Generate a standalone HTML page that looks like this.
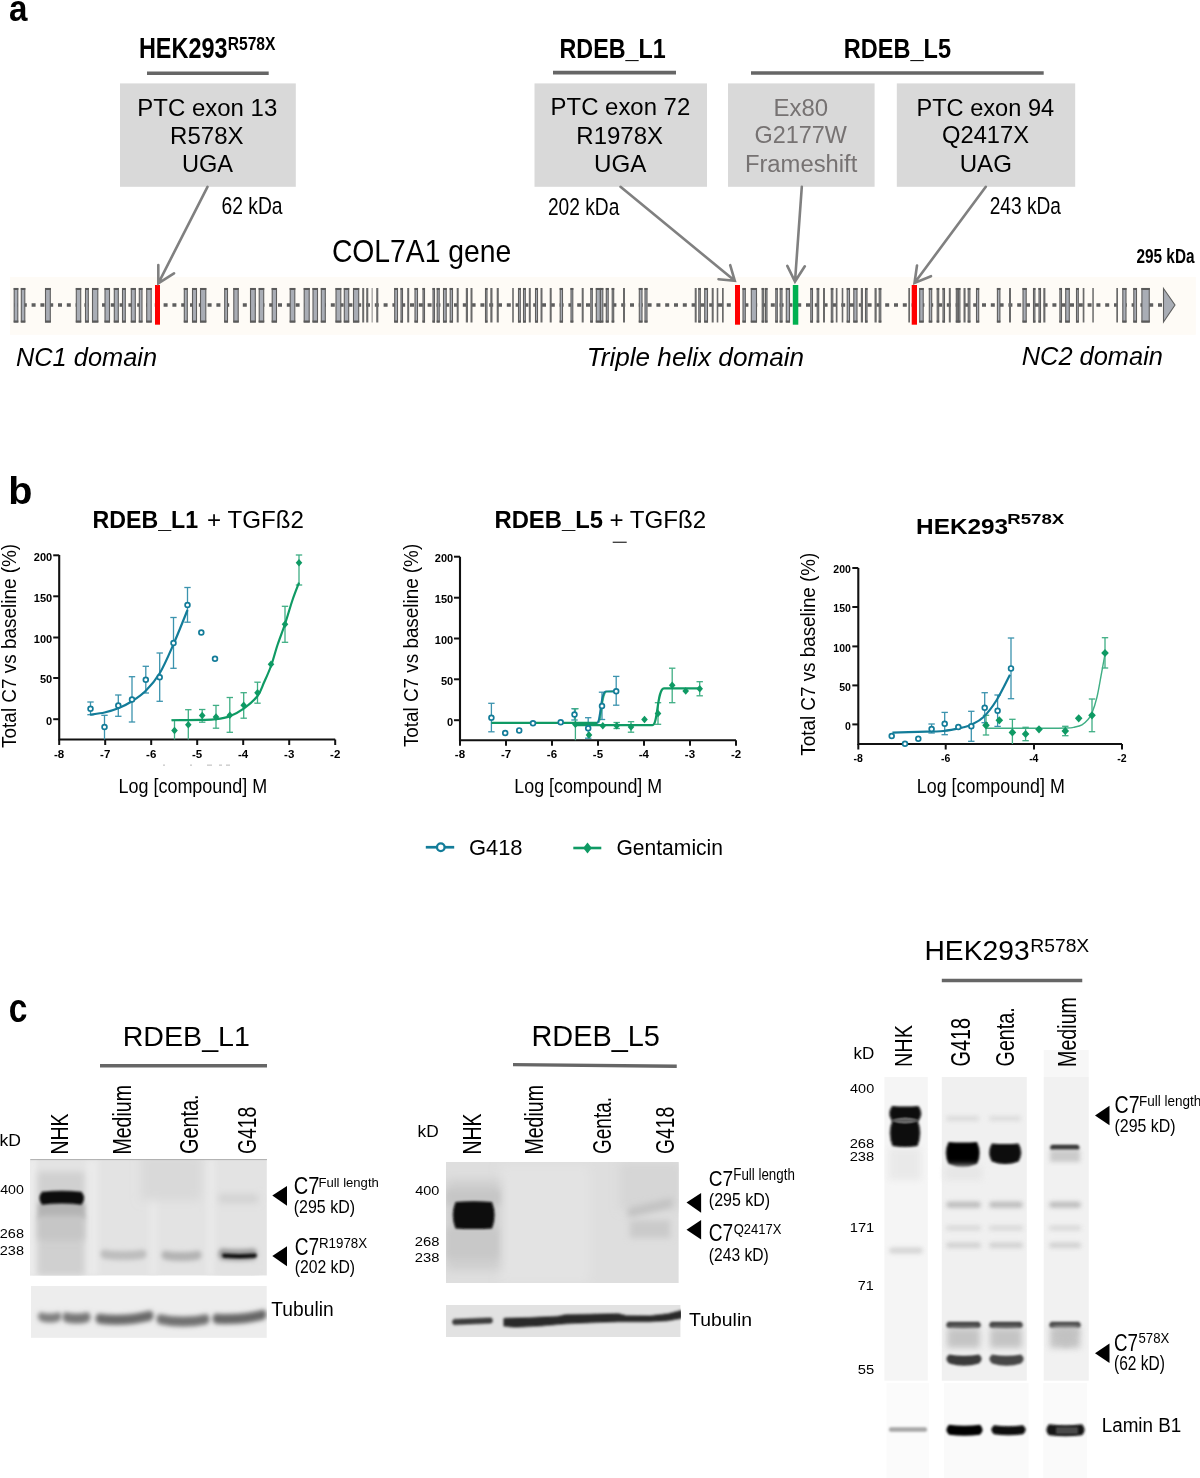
<!DOCTYPE html><html><head><meta charset="utf-8"><style>html,body{margin:0;padding:0;background:#fff;}svg{display:block;will-change:transform;}text{font-family:"Liberation Sans",sans-serif;}</style></head><body>
<svg width="1200" height="1478" viewBox="0 0 1200 1478">
<defs>
<filter id="b05" filterUnits="userSpaceOnUse" x="0" y="900" width="1200" height="578"><feGaussianBlur stdDeviation="0.6"/></filter>
<filter id="b1" filterUnits="userSpaceOnUse" x="0" y="900" width="1200" height="578"><feGaussianBlur stdDeviation="1.3"/></filter>
<filter id="b2" filterUnits="userSpaceOnUse" x="0" y="900" width="1200" height="578"><feGaussianBlur stdDeviation="2.2"/></filter>
<filter id="b3" filterUnits="userSpaceOnUse" x="0" y="900" width="1200" height="578"><feGaussianBlur stdDeviation="3.2"/></filter>
<filter id="b5" filterUnits="userSpaceOnUse" x="0" y="900" width="1200" height="578"><feGaussianBlur stdDeviation="5"/></filter>
</defs>
<rect x="0" y="0" width="1200" height="1478" fill="#fff"/>
<text x="9" y="21" font-size="37.4" textLength="18.45" lengthAdjust="spacingAndGlyphs" fill="#000" style="font-weight:bold;" >a</text>
<text x="138.88" y="58" font-size="29.07" textLength="88.64" lengthAdjust="spacingAndGlyphs" fill="#000" style="font-weight:bold;" >HEK293</text>
<text x="227.68" y="49.7" font-size="18.02" textLength="47.82" lengthAdjust="spacingAndGlyphs" fill="#000" style="font-weight:bold;" >R578X</text>
<text x="559.49" y="57.5" font-size="27.33" textLength="106.14" lengthAdjust="spacingAndGlyphs" fill="#000" style="font-weight:bold;" >RDEB_L1</text>
<text x="843.87" y="58" font-size="27.62" textLength="107.16" lengthAdjust="spacingAndGlyphs" fill="#000" style="font-weight:bold;" >RDEB_L5</text>
<line x1="147" y1="73.2" x2="268.7" y2="73.2" stroke="#666" stroke-width="3.6" />
<line x1="553" y1="72.6" x2="676" y2="72.6" stroke="#666" stroke-width="3.6" />
<line x1="751" y1="73" x2="1043.7" y2="73" stroke="#666" stroke-width="3.6" />
<rect x="120" y="83.4" width="175.8" height="103.4" fill="#d9d9d9" />
<rect x="534.5" y="83.4" width="172.5" height="103.4" fill="#d9d9d9" />
<rect x="728" y="83.4" width="146.6" height="103.4" fill="#d9d9d9" />
<rect x="896.8" y="83.4" width="178.4" height="103.4" fill="#d9d9d9" />
<text x="137.33" y="115.5" font-size="24.42" textLength="139.91" lengthAdjust="spacingAndGlyphs" fill="#000" style="" >PTC exon 13</text>
<text x="170.08" y="143.75" font-size="24.42" textLength="73.47" lengthAdjust="spacingAndGlyphs" fill="#000" style="" >R578X</text>
<text x="181.98" y="172" font-size="24.42" textLength="51.07" lengthAdjust="spacingAndGlyphs" fill="#000" style="" >UGA</text>
<text x="550.59" y="115.3" font-size="24.42" textLength="139.65" lengthAdjust="spacingAndGlyphs" fill="#000" style="" >PTC exon 72</text>
<text x="576.33" y="143.75" font-size="24.42" textLength="86.74" lengthAdjust="spacingAndGlyphs" fill="#000" style="" >R1978X</text>
<text x="593.94" y="171.75" font-size="24.42" textLength="52.36" lengthAdjust="spacingAndGlyphs" fill="#000" style="" >UGA</text>
<text x="773.48" y="115.7" font-size="24.42" textLength="54.64" lengthAdjust="spacingAndGlyphs" fill="#767272" style="" >Ex80</text>
<text x="754.43" y="143.4" font-size="24.42" textLength="92.5" lengthAdjust="spacingAndGlyphs" fill="#767272" style="" >G2177W</text>
<text x="744.9" y="171.7" font-size="24.42" textLength="112.4" lengthAdjust="spacingAndGlyphs" fill="#767272" style="" >Frameshift</text>
<text x="916.41" y="115.7" font-size="24.42" textLength="137.73" lengthAdjust="spacingAndGlyphs" fill="#000" style="" >PTC exon 94</text>
<text x="942.03" y="143.4" font-size="24.42" textLength="87.03" lengthAdjust="spacingAndGlyphs" fill="#000" style="" >Q2417X</text>
<text x="959.69" y="171.7" font-size="24.42" textLength="52.24" lengthAdjust="spacingAndGlyphs" fill="#000" style="" >UAG</text>
<text x="221.54" y="214.2" font-size="23.26" textLength="61.03" lengthAdjust="spacingAndGlyphs" fill="#000" style="" >62 kDa</text>
<text x="547.94" y="214.5" font-size="23.26" textLength="71.35" lengthAdjust="spacingAndGlyphs" fill="#000" style="" >202 kDa</text>
<text x="989.74" y="213.5" font-size="23.26" textLength="71.25" lengthAdjust="spacingAndGlyphs" fill="#000" style="" >243 kDa</text>
<text x="1136.46" y="262.7" font-size="19.48" textLength="58.1" lengthAdjust="spacingAndGlyphs" fill="#000" style="font-weight:bold;" >295 kDa</text>
<text x="331.88" y="261.7" font-size="31.98" textLength="179.48" lengthAdjust="spacingAndGlyphs" fill="#000" style="" >COL7A1 gene</text>
<rect x="10" y="277" width="1185.8" height="57.8" fill="#fefbf6" />
<line x1="14" y1="305" x2="1163" y2="305" stroke="#5e5e5e" stroke-width="3.6" stroke-dasharray="4 4.8"/>
<rect x="14.2" y="288.5" width="3.6" height="33.5" fill="#a9adb5" stroke="#5e5e5e" stroke-width="1.1"/>
<rect x="13.7" y="288" width="4.6" height="2" fill="#5a5a5a" />
<rect x="13.7" y="320.5" width="4.6" height="2" fill="#5a5a5a" />
<rect x="21.3" y="288.5" width="3.5" height="33.5" fill="#a9adb5" stroke="#5e5e5e" stroke-width="1.1"/>
<rect x="20.8" y="288" width="4.5" height="2" fill="#5a5a5a" />
<rect x="20.8" y="320.5" width="4.5" height="2" fill="#5a5a5a" />
<rect x="45.5" y="288.5" width="4.8" height="33.5" fill="#a9adb5" stroke="#5e5e5e" stroke-width="1.1"/>
<rect x="45" y="288" width="5.8" height="2" fill="#5a5a5a" />
<rect x="45" y="320.5" width="5.8" height="2" fill="#5a5a5a" />
<rect x="76.3" y="288.5" width="4.4" height="33.5" fill="#a9adb5" stroke="#5e5e5e" stroke-width="1.1"/>
<rect x="75.8" y="288" width="5.4" height="2" fill="#5a5a5a" />
<rect x="75.8" y="320.5" width="5.4" height="2" fill="#5a5a5a" />
<rect x="85.5" y="288.5" width="2.8" height="33.5" fill="#a9adb5" stroke="#5e5e5e" stroke-width="1.1"/>
<rect x="85" y="288" width="3.8" height="2" fill="#5a5a5a" />
<rect x="85" y="320.5" width="3.8" height="2" fill="#5a5a5a" />
<rect x="92.5" y="288.5" width="5.3" height="33.5" fill="#a9adb5" stroke="#5e5e5e" stroke-width="1.1"/>
<rect x="92" y="288" width="6.3" height="2" fill="#5a5a5a" />
<rect x="92" y="320.5" width="6.3" height="2" fill="#5a5a5a" />
<rect x="105" y="288.5" width="4.5" height="33.5" fill="#a9adb5" stroke="#5e5e5e" stroke-width="1.1"/>
<rect x="104.5" y="288" width="5.5" height="2" fill="#5a5a5a" />
<rect x="104.5" y="320.5" width="5.5" height="2" fill="#5a5a5a" />
<rect x="114.3" y="288.5" width="4" height="33.5" fill="#a9adb5" stroke="#5e5e5e" stroke-width="1.1"/>
<rect x="113.8" y="288" width="5" height="2" fill="#5a5a5a" />
<rect x="113.8" y="320.5" width="5" height="2" fill="#5a5a5a" />
<rect x="122.5" y="288.5" width="2.8" height="33.5" fill="#a9adb5" stroke="#5e5e5e" stroke-width="1.1"/>
<rect x="122" y="288" width="3.8" height="2" fill="#5a5a5a" />
<rect x="122" y="320.5" width="3.8" height="2" fill="#5a5a5a" />
<rect x="131.3" y="288.5" width="4" height="33.5" fill="#a9adb5" stroke="#5e5e5e" stroke-width="1.1"/>
<rect x="130.8" y="288" width="5" height="2" fill="#5a5a5a" />
<rect x="130.8" y="320.5" width="5" height="2" fill="#5a5a5a" />
<rect x="139.3" y="288.5" width="2.7" height="33.5" fill="#a9adb5" stroke="#5e5e5e" stroke-width="1.1"/>
<rect x="138.8" y="288" width="3.7" height="2" fill="#5a5a5a" />
<rect x="138.8" y="320.5" width="3.7" height="2" fill="#5a5a5a" />
<rect x="146.7" y="288.5" width="4.5" height="33.5" fill="#a9adb5" stroke="#5e5e5e" stroke-width="1.1"/>
<rect x="146.2" y="288" width="5.5" height="2" fill="#5a5a5a" />
<rect x="146.2" y="320.5" width="5.5" height="2" fill="#5a5a5a" />
<rect x="184.3" y="288.5" width="3" height="33.5" fill="#a9adb5" stroke="#5e5e5e" stroke-width="1.1"/>
<rect x="183.8" y="288" width="4" height="2" fill="#5a5a5a" />
<rect x="183.8" y="320.5" width="4" height="2" fill="#5a5a5a" />
<rect x="192.5" y="288.5" width="4" height="33.5" fill="#a9adb5" stroke="#5e5e5e" stroke-width="1.1"/>
<rect x="192" y="288" width="5" height="2" fill="#5a5a5a" />
<rect x="192" y="320.5" width="5" height="2" fill="#5a5a5a" />
<rect x="200.5" y="288.5" width="5.3" height="33.5" fill="#a9adb5" stroke="#5e5e5e" stroke-width="1.1"/>
<rect x="200" y="288" width="6.3" height="2" fill="#5a5a5a" />
<rect x="200" y="320.5" width="6.3" height="2" fill="#5a5a5a" />
<rect x="224.7" y="288.5" width="2.8" height="33.5" fill="#a9adb5" stroke="#5e5e5e" stroke-width="1.1"/>
<rect x="224.2" y="288" width="3.8" height="2" fill="#5a5a5a" />
<rect x="224.2" y="320.5" width="3.8" height="2" fill="#5a5a5a" />
<rect x="233.8" y="288.5" width="4.4" height="33.5" fill="#a9adb5" stroke="#5e5e5e" stroke-width="1.1"/>
<rect x="233.3" y="288" width="5.4" height="2" fill="#5a5a5a" />
<rect x="233.3" y="320.5" width="5.4" height="2" fill="#5a5a5a" />
<rect x="250.5" y="288.5" width="4.8" height="33.5" fill="#a9adb5" stroke="#5e5e5e" stroke-width="1.1"/>
<rect x="250" y="288" width="5.8" height="2" fill="#5a5a5a" />
<rect x="250" y="320.5" width="5.8" height="2" fill="#5a5a5a" />
<rect x="259.2" y="288.5" width="4.5" height="33.5" fill="#a9adb5" stroke="#5e5e5e" stroke-width="1.1"/>
<rect x="258.7" y="288" width="5.5" height="2" fill="#5a5a5a" />
<rect x="258.7" y="320.5" width="5.5" height="2" fill="#5a5a5a" />
<rect x="272.2" y="288.5" width="4.3" height="33.5" fill="#a9adb5" stroke="#5e5e5e" stroke-width="1.1"/>
<rect x="271.7" y="288" width="5.3" height="2" fill="#5a5a5a" />
<rect x="271.7" y="320.5" width="5.3" height="2" fill="#5a5a5a" />
<rect x="290.2" y="288.5" width="4.6" height="33.5" fill="#a9adb5" stroke="#5e5e5e" stroke-width="1.1"/>
<rect x="289.7" y="288" width="5.6" height="2" fill="#5a5a5a" />
<rect x="289.7" y="320.5" width="5.6" height="2" fill="#5a5a5a" />
<rect x="304.2" y="288.5" width="5" height="33.5" fill="#a9adb5" stroke="#5e5e5e" stroke-width="1.1"/>
<rect x="303.7" y="288" width="6" height="2" fill="#5a5a5a" />
<rect x="303.7" y="320.5" width="6" height="2" fill="#5a5a5a" />
<rect x="313" y="288.5" width="4.5" height="33.5" fill="#a9adb5" stroke="#5e5e5e" stroke-width="1.1"/>
<rect x="312.5" y="288" width="5.5" height="2" fill="#5a5a5a" />
<rect x="312.5" y="320.5" width="5.5" height="2" fill="#5a5a5a" />
<rect x="321.3" y="288.5" width="4" height="33.5" fill="#a9adb5" stroke="#5e5e5e" stroke-width="1.1"/>
<rect x="320.8" y="288" width="5" height="2" fill="#5a5a5a" />
<rect x="320.8" y="320.5" width="5" height="2" fill="#5a5a5a" />
<rect x="336" y="288.5" width="4.8" height="33.5" fill="#a9adb5" stroke="#5e5e5e" stroke-width="1.1"/>
<rect x="335.5" y="288" width="5.8" height="2" fill="#5a5a5a" />
<rect x="335.5" y="320.5" width="5.8" height="2" fill="#5a5a5a" />
<rect x="344.3" y="288.5" width="4.4" height="33.5" fill="#a9adb5" stroke="#5e5e5e" stroke-width="1.1"/>
<rect x="343.8" y="288" width="5.4" height="2" fill="#5a5a5a" />
<rect x="343.8" y="320.5" width="5.4" height="2" fill="#5a5a5a" />
<rect x="353.5" y="288.5" width="5.2" height="33.5" fill="#a9adb5" stroke="#5e5e5e" stroke-width="1.1"/>
<rect x="353" y="288" width="6.2" height="2" fill="#5a5a5a" />
<rect x="353" y="320.5" width="6.2" height="2" fill="#5a5a5a" />
<rect x="362.2" y="288" width="2" height="34.5" fill="#6a6a6a" />
<rect x="366.2" y="288" width="2.1" height="34.5" fill="#6a6a6a" />
<rect x="371.7" y="288" width="0.8" height="34.5" fill="#6a6a6a" />
<rect x="376.2" y="288" width="2.1" height="34.5" fill="#6a6a6a" />
<rect x="394.7" y="288.5" width="2.8" height="33.5" fill="#a9adb5" stroke="#5e5e5e" stroke-width="1.1"/>
<rect x="394.2" y="288" width="3.8" height="2" fill="#5a5a5a" />
<rect x="394.2" y="320.5" width="3.8" height="2" fill="#5a5a5a" />
<rect x="401" y="288.5" width="1.5" height="33.5" fill="#a9adb5" stroke="#5e5e5e" stroke-width="1.1"/>
<rect x="400.5" y="288" width="2.5" height="2" fill="#5a5a5a" />
<rect x="400.5" y="320.5" width="2.5" height="2" fill="#5a5a5a" />
<rect x="407.2" y="288" width="2" height="34.5" fill="#6a6a6a" />
<rect x="415" y="288.5" width="2.5" height="33.5" fill="#a9adb5" stroke="#5e5e5e" stroke-width="1.1"/>
<rect x="414.5" y="288" width="3.5" height="2" fill="#5a5a5a" />
<rect x="414.5" y="320.5" width="3.5" height="2" fill="#5a5a5a" />
<rect x="423" y="288.5" width="1.5" height="33.5" fill="#a9adb5" stroke="#5e5e5e" stroke-width="1.1"/>
<rect x="422.5" y="288" width="2.5" height="2" fill="#5a5a5a" />
<rect x="422.5" y="320.5" width="2.5" height="2" fill="#5a5a5a" />
<rect x="433" y="288.5" width="1.5" height="33.5" fill="#a9adb5" stroke="#5e5e5e" stroke-width="1.1"/>
<rect x="432.5" y="288" width="2.5" height="2" fill="#5a5a5a" />
<rect x="432.5" y="320.5" width="2.5" height="2" fill="#5a5a5a" />
<rect x="437.2" y="288.5" width="2" height="33.5" fill="#a9adb5" stroke="#5e5e5e" stroke-width="1.1"/>
<rect x="436.7" y="288" width="3" height="2" fill="#5a5a5a" />
<rect x="436.7" y="320.5" width="3" height="2" fill="#5a5a5a" />
<rect x="443.5" y="288.5" width="2.7" height="33.5" fill="#a9adb5" stroke="#5e5e5e" stroke-width="1.1"/>
<rect x="443" y="288" width="3.7" height="2" fill="#5a5a5a" />
<rect x="443" y="320.5" width="3.7" height="2" fill="#5a5a5a" />
<rect x="450.2" y="288.5" width="2.3" height="33.5" fill="#a9adb5" stroke="#5e5e5e" stroke-width="1.1"/>
<rect x="449.7" y="288" width="3.3" height="2" fill="#5a5a5a" />
<rect x="449.7" y="320.5" width="3.3" height="2" fill="#5a5a5a" />
<rect x="456.7" y="288" width="2" height="34.5" fill="#6a6a6a" />
<rect x="465.8" y="288" width="2.2" height="34.5" fill="#6a6a6a" />
<rect x="470.5" y="288" width="2" height="34.5" fill="#6a6a6a" />
<rect x="485.5" y="288.5" width="1.5" height="33.5" fill="#a9adb5" stroke="#5e5e5e" stroke-width="1.1"/>
<rect x="485" y="288" width="2.5" height="2" fill="#5a5a5a" />
<rect x="485" y="320.5" width="2.5" height="2" fill="#5a5a5a" />
<rect x="490.3" y="288" width="2.2" height="34.5" fill="#6a6a6a" />
<rect x="496.7" y="288" width="2.1" height="34.5" fill="#6a6a6a" />
<rect x="512.2" y="288" width="1.6" height="34.5" fill="#6a6a6a" />
<rect x="518.5" y="288.5" width="1.8" height="33.5" fill="#a9adb5" stroke="#5e5e5e" stroke-width="1.1"/>
<rect x="518" y="288" width="2.8" height="2" fill="#5a5a5a" />
<rect x="518" y="320.5" width="2.8" height="2" fill="#5a5a5a" />
<rect x="523.5" y="288.5" width="1.8" height="33.5" fill="#a9adb5" stroke="#5e5e5e" stroke-width="1.1"/>
<rect x="523" y="288" width="2.8" height="2" fill="#5a5a5a" />
<rect x="523" y="320.5" width="2.8" height="2" fill="#5a5a5a" />
<rect x="528.8" y="288" width="2" height="34.5" fill="#6a6a6a" />
<rect x="535.5" y="288.5" width="2" height="33.5" fill="#a9adb5" stroke="#5e5e5e" stroke-width="1.1"/>
<rect x="535" y="288" width="3" height="2" fill="#5a5a5a" />
<rect x="535" y="320.5" width="3" height="2" fill="#5a5a5a" />
<rect x="540.5" y="288" width="2" height="34.5" fill="#6a6a6a" />
<rect x="549.7" y="288" width="2" height="34.5" fill="#6a6a6a" />
<rect x="560.2" y="288.5" width="2.3" height="33.5" fill="#a9adb5" stroke="#5e5e5e" stroke-width="1.1"/>
<rect x="559.7" y="288" width="3.3" height="2" fill="#5a5a5a" />
<rect x="559.7" y="320.5" width="3.3" height="2" fill="#5a5a5a" />
<rect x="571" y="288.5" width="1.8" height="33.5" fill="#a9adb5" stroke="#5e5e5e" stroke-width="1.1"/>
<rect x="570.5" y="288" width="2.8" height="2" fill="#5a5a5a" />
<rect x="570.5" y="320.5" width="2.8" height="2" fill="#5a5a5a" />
<rect x="581.7" y="288" width="2" height="34.5" fill="#6a6a6a" />
<rect x="590.8" y="288.5" width="1.5" height="33.5" fill="#a9adb5" stroke="#5e5e5e" stroke-width="1.1"/>
<rect x="590.3" y="288" width="2.5" height="2" fill="#5a5a5a" />
<rect x="590.3" y="320.5" width="2.5" height="2" fill="#5a5a5a" />
<rect x="596.3" y="288.5" width="4" height="33.5" fill="#a9adb5" stroke="#5e5e5e" stroke-width="1.1"/>
<rect x="595.8" y="288" width="5" height="2" fill="#5a5a5a" />
<rect x="595.8" y="320.5" width="5" height="2" fill="#5a5a5a" />
<rect x="600.5" y="288.5" width="2.3" height="33.5" fill="#a9adb5" stroke="#5e5e5e" stroke-width="1.1"/>
<rect x="600" y="288" width="3.3" height="2" fill="#5a5a5a" />
<rect x="600" y="320.5" width="3.3" height="2" fill="#5a5a5a" />
<rect x="606.3" y="288.5" width="1.9" height="33.5" fill="#a9adb5" stroke="#5e5e5e" stroke-width="1.1"/>
<rect x="605.8" y="288" width="2.9" height="2" fill="#5a5a5a" />
<rect x="605.8" y="320.5" width="2.9" height="2" fill="#5a5a5a" />
<rect x="612.2" y="288.5" width="1.5" height="33.5" fill="#a9adb5" stroke="#5e5e5e" stroke-width="1.1"/>
<rect x="611.7" y="288" width="2.5" height="2" fill="#5a5a5a" />
<rect x="611.7" y="320.5" width="2.5" height="2" fill="#5a5a5a" />
<rect x="623" y="288" width="2" height="34.5" fill="#6a6a6a" />
<rect x="639.3" y="288.5" width="2.7" height="33.5" fill="#a9adb5" stroke="#5e5e5e" stroke-width="1.1"/>
<rect x="638.8" y="288" width="3.7" height="2" fill="#5a5a5a" />
<rect x="638.8" y="320.5" width="3.7" height="2" fill="#5a5a5a" />
<rect x="645" y="288.5" width="2" height="33.5" fill="#a9adb5" stroke="#5e5e5e" stroke-width="1.1"/>
<rect x="644.5" y="288" width="3" height="2" fill="#5a5a5a" />
<rect x="644.5" y="320.5" width="3" height="2" fill="#5a5a5a" />
<rect x="694.7" y="288" width="2" height="34.5" fill="#6a6a6a" />
<rect x="698.8" y="288.5" width="1.5" height="33.5" fill="#a9adb5" stroke="#5e5e5e" stroke-width="1.1"/>
<rect x="698.3" y="288" width="2.5" height="2" fill="#5a5a5a" />
<rect x="698.3" y="320.5" width="2.5" height="2" fill="#5a5a5a" />
<rect x="704.7" y="288.5" width="2.8" height="33.5" fill="#a9adb5" stroke="#5e5e5e" stroke-width="1.1"/>
<rect x="704.2" y="288" width="3.8" height="2" fill="#5a5a5a" />
<rect x="704.2" y="320.5" width="3.8" height="2" fill="#5a5a5a" />
<rect x="711.7" y="288" width="2" height="34.5" fill="#6a6a6a" />
<rect x="716.7" y="288" width="1.6" height="34.5" fill="#6a6a6a" />
<rect x="722" y="288" width="1.7" height="34.5" fill="#6a6a6a" />
<rect x="743" y="288.5" width="2.3" height="33.5" fill="#a9adb5" stroke="#5e5e5e" stroke-width="1.1"/>
<rect x="742.5" y="288" width="3.3" height="2" fill="#5a5a5a" />
<rect x="742.5" y="320.5" width="3.3" height="2" fill="#5a5a5a" />
<rect x="751.3" y="288.5" width="5.2" height="33.5" fill="#a9adb5" stroke="#5e5e5e" stroke-width="1.1"/>
<rect x="750.8" y="288" width="6.2" height="2" fill="#5a5a5a" />
<rect x="750.8" y="320.5" width="6.2" height="2" fill="#5a5a5a" />
<rect x="762.2" y="288.5" width="1.5" height="33.5" fill="#a9adb5" stroke="#5e5e5e" stroke-width="1.1"/>
<rect x="761.7" y="288" width="2.5" height="2" fill="#5a5a5a" />
<rect x="761.7" y="320.5" width="2.5" height="2" fill="#5a5a5a" />
<rect x="765.5" y="288.5" width="1.5" height="33.5" fill="#a9adb5" stroke="#5e5e5e" stroke-width="1.1"/>
<rect x="765" y="288" width="2.5" height="2" fill="#5a5a5a" />
<rect x="765" y="320.5" width="2.5" height="2" fill="#5a5a5a" />
<rect x="775.8" y="288.5" width="1.5" height="33.5" fill="#a9adb5" stroke="#5e5e5e" stroke-width="1.1"/>
<rect x="775.3" y="288" width="2.5" height="2" fill="#5a5a5a" />
<rect x="775.3" y="320.5" width="2.5" height="2" fill="#5a5a5a" />
<rect x="780.2" y="288.5" width="1.8" height="33.5" fill="#a9adb5" stroke="#5e5e5e" stroke-width="1.1"/>
<rect x="779.7" y="288" width="2.8" height="2" fill="#5a5a5a" />
<rect x="779.7" y="320.5" width="2.8" height="2" fill="#5a5a5a" />
<rect x="786.3" y="288.5" width="3.2" height="33.5" fill="#a9adb5" stroke="#5e5e5e" stroke-width="1.1"/>
<rect x="785.8" y="288" width="4.2" height="2" fill="#5a5a5a" />
<rect x="785.8" y="320.5" width="4.2" height="2" fill="#5a5a5a" />
<rect x="810.8" y="288.5" width="1.7" height="33.5" fill="#a9adb5" stroke="#5e5e5e" stroke-width="1.1"/>
<rect x="810.3" y="288" width="2.7" height="2" fill="#5a5a5a" />
<rect x="810.3" y="320.5" width="2.7" height="2" fill="#5a5a5a" />
<rect x="817.2" y="288.5" width="1.5" height="33.5" fill="#a9adb5" stroke="#5e5e5e" stroke-width="1.1"/>
<rect x="816.7" y="288" width="2.5" height="2" fill="#5a5a5a" />
<rect x="816.7" y="320.5" width="2.5" height="2" fill="#5a5a5a" />
<rect x="823" y="288" width="2" height="34.5" fill="#6a6a6a" />
<rect x="831.3" y="288.5" width="1.5" height="33.5" fill="#a9adb5" stroke="#5e5e5e" stroke-width="1.1"/>
<rect x="830.8" y="288" width="2.5" height="2" fill="#5a5a5a" />
<rect x="830.8" y="320.5" width="2.5" height="2" fill="#5a5a5a" />
<rect x="835.8" y="288" width="1.7" height="34.5" fill="#6a6a6a" />
<rect x="841.7" y="288" width="1.6" height="34.5" fill="#6a6a6a" />
<rect x="847.2" y="288.5" width="2.3" height="33.5" fill="#a9adb5" stroke="#5e5e5e" stroke-width="1.1"/>
<rect x="846.7" y="288" width="3.3" height="2" fill="#5a5a5a" />
<rect x="846.7" y="320.5" width="3.3" height="2" fill="#5a5a5a" />
<rect x="853.8" y="288.5" width="3.2" height="33.5" fill="#a9adb5" stroke="#5e5e5e" stroke-width="1.1"/>
<rect x="853.3" y="288" width="4.2" height="2" fill="#5a5a5a" />
<rect x="853.3" y="320.5" width="4.2" height="2" fill="#5a5a5a" />
<rect x="860.8" y="288" width="2.2" height="34.5" fill="#6a6a6a" />
<rect x="865.5" y="288.5" width="1.5" height="33.5" fill="#a9adb5" stroke="#5e5e5e" stroke-width="1.1"/>
<rect x="865" y="288" width="2.5" height="2" fill="#5a5a5a" />
<rect x="865" y="320.5" width="2.5" height="2" fill="#5a5a5a" />
<rect x="874.5" y="288" width="2.2" height="34.5" fill="#6a6a6a" />
<rect x="879.2" y="288.5" width="1.6" height="33.5" fill="#a9adb5" stroke="#5e5e5e" stroke-width="1.1"/>
<rect x="878.7" y="288" width="2.6" height="2" fill="#5a5a5a" />
<rect x="878.7" y="320.5" width="2.6" height="2" fill="#5a5a5a" />
<rect x="908.3" y="288" width="1.7" height="34.5" fill="#6a6a6a" />
<rect x="919.7" y="288.5" width="3.5" height="33.5" fill="#a9adb5" stroke="#5e5e5e" stroke-width="1.1"/>
<rect x="919.2" y="288" width="4.5" height="2" fill="#5a5a5a" />
<rect x="919.2" y="320.5" width="4.5" height="2" fill="#5a5a5a" />
<rect x="929.3" y="288.5" width="2.4" height="33.5" fill="#a9adb5" stroke="#5e5e5e" stroke-width="1.1"/>
<rect x="928.8" y="288" width="3.4" height="2" fill="#5a5a5a" />
<rect x="928.8" y="320.5" width="3.4" height="2" fill="#5a5a5a" />
<rect x="937.2" y="288.5" width="1.5" height="33.5" fill="#a9adb5" stroke="#5e5e5e" stroke-width="1.1"/>
<rect x="936.7" y="288" width="2.5" height="2" fill="#5a5a5a" />
<rect x="936.7" y="320.5" width="2.5" height="2" fill="#5a5a5a" />
<rect x="943" y="288.5" width="1.5" height="33.5" fill="#a9adb5" stroke="#5e5e5e" stroke-width="1.1"/>
<rect x="942.5" y="288" width="2.5" height="2" fill="#5a5a5a" />
<rect x="942.5" y="320.5" width="2.5" height="2" fill="#5a5a5a" />
<rect x="948.8" y="288" width="2" height="34.5" fill="#6a6a6a" />
<rect x="956.3" y="288.5" width="1.5" height="33.5" fill="#a9adb5" stroke="#5e5e5e" stroke-width="1.1"/>
<rect x="955.8" y="288" width="2.5" height="2" fill="#5a5a5a" />
<rect x="955.8" y="320.5" width="2.5" height="2" fill="#5a5a5a" />
<rect x="958.4" y="288.5" width="1.5" height="33.5" fill="#a9adb5" stroke="#5e5e5e" stroke-width="1.1"/>
<rect x="957.9" y="288" width="2.5" height="2" fill="#5a5a5a" />
<rect x="957.9" y="320.5" width="2.5" height="2" fill="#5a5a5a" />
<rect x="963.5" y="288" width="2.1" height="34.5" fill="#6a6a6a" />
<rect x="968.2" y="288.5" width="1.7" height="33.5" fill="#a9adb5" stroke="#5e5e5e" stroke-width="1.1"/>
<rect x="967.7" y="288" width="2.7" height="2" fill="#5a5a5a" />
<rect x="967.7" y="320.5" width="2.7" height="2" fill="#5a5a5a" />
<rect x="976.5" y="288.5" width="2.2" height="33.5" fill="#a9adb5" stroke="#5e5e5e" stroke-width="1.1"/>
<rect x="976" y="288" width="3.2" height="2" fill="#5a5a5a" />
<rect x="976" y="320.5" width="3.2" height="2" fill="#5a5a5a" />
<rect x="997.4" y="288.5" width="2.5" height="33.5" fill="#a9adb5" stroke="#5e5e5e" stroke-width="1.1"/>
<rect x="996.9" y="288" width="3.5" height="2" fill="#5a5a5a" />
<rect x="996.9" y="320.5" width="3.5" height="2" fill="#5a5a5a" />
<rect x="1009" y="288" width="2" height="34.5" fill="#6a6a6a" />
<rect x="1023" y="288.5" width="3.2" height="33.5" fill="#a9adb5" stroke="#5e5e5e" stroke-width="1.1"/>
<rect x="1022.5" y="288" width="4.2" height="2" fill="#5a5a5a" />
<rect x="1022.5" y="320.5" width="4.2" height="2" fill="#5a5a5a" />
<rect x="1033.5" y="288.5" width="1.4" height="33.5" fill="#a9adb5" stroke="#5e5e5e" stroke-width="1.1"/>
<rect x="1033" y="288" width="2.4" height="2" fill="#5a5a5a" />
<rect x="1033" y="320.5" width="2.4" height="2" fill="#5a5a5a" />
<rect x="1039" y="288.5" width="1.5" height="33.5" fill="#a9adb5" stroke="#5e5e5e" stroke-width="1.1"/>
<rect x="1038.5" y="288" width="2.5" height="2" fill="#5a5a5a" />
<rect x="1038.5" y="320.5" width="2.5" height="2" fill="#5a5a5a" />
<rect x="1043.3" y="288" width="2.1" height="34.5" fill="#6a6a6a" />
<rect x="1059.9" y="288.5" width="1.6" height="33.5" fill="#a9adb5" stroke="#5e5e5e" stroke-width="1.1"/>
<rect x="1059.4" y="288" width="2.6" height="2" fill="#5a5a5a" />
<rect x="1059.4" y="320.5" width="2.6" height="2" fill="#5a5a5a" />
<rect x="1065.7" y="288.5" width="3.6" height="33.5" fill="#a9adb5" stroke="#5e5e5e" stroke-width="1.1"/>
<rect x="1065.2" y="288" width="4.6" height="2" fill="#5a5a5a" />
<rect x="1065.2" y="320.5" width="4.6" height="2" fill="#5a5a5a" />
<rect x="1076.5" y="288.5" width="1.8" height="33.5" fill="#a9adb5" stroke="#5e5e5e" stroke-width="1.1"/>
<rect x="1076" y="288" width="2.8" height="2" fill="#5a5a5a" />
<rect x="1076" y="320.5" width="2.8" height="2" fill="#5a5a5a" />
<rect x="1082.7" y="288" width="1.7" height="34.5" fill="#6a6a6a" />
<rect x="1092.3" y="288" width="1.5" height="34.5" fill="#6a6a6a" />
<rect x="1116.3" y="288" width="1.7" height="34.5" fill="#6a6a6a" />
<rect x="1122.8" y="288.5" width="3.2" height="33.5" fill="#a9adb5" stroke="#5e5e5e" stroke-width="1.1"/>
<rect x="1122.3" y="288" width="4.2" height="2" fill="#5a5a5a" />
<rect x="1122.3" y="320.5" width="4.2" height="2" fill="#5a5a5a" />
<rect x="1133.8" y="288.5" width="2.7" height="33.5" fill="#a9adb5" stroke="#5e5e5e" stroke-width="1.1"/>
<rect x="1133.3" y="288" width="3.7" height="2" fill="#5a5a5a" />
<rect x="1133.3" y="320.5" width="3.7" height="2" fill="#5a5a5a" />
<rect x="1141.9" y="288.5" width="7.35" height="33.5" fill="#a9adb5" stroke="#5e5e5e" stroke-width="1.1"/>
<rect x="1141.4" y="288" width="8.35" height="2" fill="#5a5a5a" />
<rect x="1141.4" y="320.5" width="8.35" height="2" fill="#5a5a5a" />
<path d="M1163.5,288.5 L1175,305 L1163.5,322 Z" fill="#a9adb5" stroke="#5e5e5e" stroke-width="1.1"/>
<rect x="155" y="285" width="5" height="39.7" fill="#ff0000" />
<rect x="735" y="285" width="5" height="39.7" fill="#ff0000" />
<rect x="911.7" y="285" width="5.3" height="39.7" fill="#ff0000" />
<rect x="792.8" y="285" width="5.5" height="39.7" fill="#00b050" />
<path d="M207.5,186.8 L158.3,283.3 M158.3,265 L158.3,283.3 L174,273.3" fill="none" stroke="#808080" stroke-width="2.6" stroke-linecap="round" stroke-linejoin="miter"/>
<path d="M620.5,186.8 L734.8,280.8 M718.5,279.2 L734.8,280.8 L730.2,265.2" fill="none" stroke="#808080" stroke-width="2.6" stroke-linecap="round" stroke-linejoin="miter"/>
<path d="M801.8,186.8 L795,281.5 M787.3,265.9 L795,281.5 L804.8,266.3" fill="none" stroke="#808080" stroke-width="2.6" stroke-linecap="round" stroke-linejoin="miter"/>
<path d="M985.8,186.8 L914.5,283 M917,265.5 L914.5,283 L931,276.2" fill="none" stroke="#808080" stroke-width="2.6" stroke-linecap="round" stroke-linejoin="miter"/>
<text x="15.94" y="365.8" font-size="25.44" textLength="141.09" lengthAdjust="spacingAndGlyphs" fill="#000" style="font-style:italic;" >NC1 domain</text>
<text x="586.65" y="366" font-size="25.44" textLength="217.49" lengthAdjust="spacingAndGlyphs" fill="#000" style="font-style:italic;" >Triple helix domain</text>
<text x="1021.74" y="365" font-size="25.44" textLength="141.19" lengthAdjust="spacingAndGlyphs" fill="#000" style="font-style:italic;" >NC2 domain</text>
<text x="8.23" y="504.2" font-size="39.7" textLength="24.19" lengthAdjust="spacingAndGlyphs" fill="#000" style="font-weight:bold;" >b</text>
<text x="92.49" y="528.2" font-size="23.55" textLength="105.63" lengthAdjust="spacingAndGlyphs" fill="#000" style="font-weight:bold;" >RDEB_L1</text>
<text x="207.09" y="528.2" font-size="23.55" textLength="96.82" lengthAdjust="spacingAndGlyphs" fill="#000" style="" >+ TGFß2</text>
<path d="M59.2,555 L59.2,739.5 L335.2,739.5" fill="none" stroke="#111" stroke-width="2.1" stroke-linejoin="miter"/>
<line x1="53.2" y1="555.3" x2="59.2" y2="555.3" stroke="#111" stroke-width="2" />
<text x="33.83" y="560.6" font-size="11" fill="#000" style="font-weight:bold;">200</text>
<line x1="53.2" y1="596.3" x2="59.2" y2="596.3" stroke="#111" stroke-width="2" />
<text x="33.83" y="601.6" font-size="11" fill="#000" style="font-weight:bold;">150</text>
<line x1="53.2" y1="637.5" x2="59.2" y2="637.5" stroke="#111" stroke-width="2" />
<text x="33.83" y="642.8" font-size="11" fill="#000" style="font-weight:bold;">100</text>
<line x1="53.2" y1="678" x2="59.2" y2="678" stroke="#111" stroke-width="2" />
<text x="39.93" y="683.3" font-size="11" fill="#000" style="font-weight:bold;">50</text>
<line x1="53.2" y1="719.2" x2="59.2" y2="719.2" stroke="#111" stroke-width="2" />
<text x="46.04" y="724.5" font-size="11" fill="#000" style="font-weight:bold;">0</text>
<line x1="59.2" y1="739.5" x2="59.2" y2="745" stroke="#111" stroke-width="2" />
<text x="54.03" y="757.5" font-size="11.5" fill="#000" style="font-weight:bold;">-8</text>
<line x1="105.2" y1="739.5" x2="105.2" y2="745" stroke="#111" stroke-width="2" />
<text x="100.08" y="757.5" font-size="11.5" fill="#000" style="font-weight:bold;">-7</text>
<line x1="151.2" y1="739.5" x2="151.2" y2="745" stroke="#111" stroke-width="2" />
<text x="146.05" y="757.5" font-size="11.5" fill="#000" style="font-weight:bold;">-6</text>
<line x1="197.2" y1="739.5" x2="197.2" y2="745" stroke="#111" stroke-width="2" />
<text x="192" y="757.5" font-size="11.5" fill="#000" style="font-weight:bold;">-5</text>
<line x1="243.2" y1="739.5" x2="243.2" y2="745" stroke="#111" stroke-width="2" />
<text x="237.88" y="757.5" font-size="11.5" fill="#000" style="font-weight:bold;">-4</text>
<line x1="289.2" y1="739.5" x2="289.2" y2="745" stroke="#111" stroke-width="2" />
<text x="284.05" y="757.5" font-size="11.5" fill="#000" style="font-weight:bold;">-3</text>
<line x1="335.2" y1="739.5" x2="335.2" y2="745" stroke="#111" stroke-width="2" />
<text x="330.08" y="757.5" font-size="11.5" fill="#000" style="font-weight:bold;">-2</text>
<text transform="translate(15.8,747.88) rotate(-90)" x="0" y="0" font-size="20.49" textLength="204.06" lengthAdjust="spacingAndGlyphs" fill="#000" style="">Total C7 vs baseline (%)</text>
<text x="118.56" y="793.3" font-size="19.33" textLength="148.62" lengthAdjust="spacingAndGlyphs" fill="#000" style="" >Log [compound] M</text>
<rect x="163" y="764.5" width="2" height="1.3" fill="#c8c8c8" />
<rect x="190" y="764.5" width="2" height="1.3" fill="#c8c8c8" />
<rect x="207" y="764.5" width="5" height="1.3" fill="#c8c8c8" />
<rect x="219" y="764.5" width="3" height="1.3" fill="#c8c8c8" />
<rect x="226" y="764.5" width="4" height="1.3" fill="#c8c8c8" />
<line x1="90.5" y1="702" x2="90.5" y2="714.7" stroke="#3b93ae" stroke-width="1.3" />
<line x1="87.3" y1="702" x2="93.7" y2="702" stroke="#3b93ae" stroke-width="1.3" />
<line x1="87.3" y1="714.7" x2="93.7" y2="714.7" stroke="#3b93ae" stroke-width="1.3" />
<line x1="104.5" y1="715.3" x2="104.5" y2="739.5" stroke="#3b93ae" stroke-width="1.3" />
<line x1="101.3" y1="715.3" x2="107.7" y2="715.3" stroke="#3b93ae" stroke-width="1.3" />
<line x1="118.3" y1="695" x2="118.3" y2="716.3" stroke="#3b93ae" stroke-width="1.3" />
<line x1="115.1" y1="695" x2="121.5" y2="695" stroke="#3b93ae" stroke-width="1.3" />
<line x1="115.1" y1="716.3" x2="121.5" y2="716.3" stroke="#3b93ae" stroke-width="1.3" />
<line x1="132" y1="676.7" x2="132" y2="722" stroke="#3b93ae" stroke-width="1.3" />
<line x1="128.8" y1="676.7" x2="135.2" y2="676.7" stroke="#3b93ae" stroke-width="1.3" />
<line x1="128.8" y1="722" x2="135.2" y2="722" stroke="#3b93ae" stroke-width="1.3" />
<line x1="145.8" y1="666.3" x2="145.8" y2="693" stroke="#3b93ae" stroke-width="1.3" />
<line x1="142.6" y1="666.3" x2="149" y2="666.3" stroke="#3b93ae" stroke-width="1.3" />
<line x1="142.6" y1="693" x2="149" y2="693" stroke="#3b93ae" stroke-width="1.3" />
<line x1="159.7" y1="653" x2="159.7" y2="701.3" stroke="#3b93ae" stroke-width="1.3" />
<line x1="156.5" y1="653" x2="162.9" y2="653" stroke="#3b93ae" stroke-width="1.3" />
<line x1="156.5" y1="701.3" x2="162.9" y2="701.3" stroke="#3b93ae" stroke-width="1.3" />
<line x1="173.5" y1="617.5" x2="173.5" y2="668.3" stroke="#3b93ae" stroke-width="1.3" />
<line x1="170.3" y1="617.5" x2="176.7" y2="617.5" stroke="#3b93ae" stroke-width="1.3" />
<line x1="170.3" y1="668.3" x2="176.7" y2="668.3" stroke="#3b93ae" stroke-width="1.3" />
<line x1="187.5" y1="587.5" x2="187.5" y2="622.2" stroke="#3b93ae" stroke-width="1.3" />
<line x1="184.3" y1="587.5" x2="190.7" y2="587.5" stroke="#3b93ae" stroke-width="1.3" />
<line x1="184.3" y1="622.2" x2="190.7" y2="622.2" stroke="#3b93ae" stroke-width="1.3" />
<path d="M90,714.7 C92.42,714.33 99.78,713.57 104.5,712.5 C109.22,711.43 113.72,710.17 118.3,708.3 C122.88,706.43 127.42,704.22 132,701.3 C136.58,698.38 141.18,695.47 145.8,690.8 C150.42,686.13 155.08,681.07 159.7,673.3 C164.32,665.53 168.87,654.75 173.5,644.2 C178.13,633.65 185.17,615.7 187.5,610" fill="none" stroke="#137c99" stroke-width="2.2" stroke-linecap="butt"/>
<circle cx="90.5" cy="708.7" r="2.4" fill="#fff" stroke="#137c99" stroke-width="1.7"/>
<circle cx="104.5" cy="727" r="2.4" fill="#fff" stroke="#137c99" stroke-width="1.7"/>
<circle cx="118.3" cy="705.5" r="2.4" fill="#fff" stroke="#137c99" stroke-width="1.7"/>
<circle cx="132" cy="699.5" r="2.4" fill="#fff" stroke="#137c99" stroke-width="1.7"/>
<circle cx="145.8" cy="679.7" r="2.4" fill="#fff" stroke="#137c99" stroke-width="1.7"/>
<circle cx="159.7" cy="677.2" r="2.4" fill="#fff" stroke="#137c99" stroke-width="1.7"/>
<circle cx="173.5" cy="643" r="2.4" fill="#fff" stroke="#137c99" stroke-width="1.7"/>
<circle cx="187.5" cy="605" r="2.4" fill="#fff" stroke="#137c99" stroke-width="1.7"/>
<circle cx="201.3" cy="632.5" r="2.4" fill="#fff" stroke="#137c99" stroke-width="1.7"/>
<circle cx="215" cy="658.8" r="2.4" fill="#fff" stroke="#137c99" stroke-width="1.7"/>
<line x1="174.5" y1="720" x2="174.5" y2="739.5" stroke="#3fae84" stroke-width="1.3" />
<line x1="171.3" y1="720" x2="177.7" y2="720" stroke="#3fae84" stroke-width="1.3" />
<line x1="188.3" y1="709.7" x2="188.3" y2="739.5" stroke="#3fae84" stroke-width="1.3" />
<line x1="185.1" y1="709.7" x2="191.5" y2="709.7" stroke="#3fae84" stroke-width="1.3" />
<line x1="202.2" y1="709.5" x2="202.2" y2="722.2" stroke="#3fae84" stroke-width="1.3" />
<line x1="199" y1="709.5" x2="205.4" y2="709.5" stroke="#3fae84" stroke-width="1.3" />
<line x1="199" y1="722.2" x2="205.4" y2="722.2" stroke="#3fae84" stroke-width="1.3" />
<line x1="216" y1="705.4" x2="216" y2="728.2" stroke="#3fae84" stroke-width="1.3" />
<line x1="212.8" y1="705.4" x2="219.2" y2="705.4" stroke="#3fae84" stroke-width="1.3" />
<line x1="212.8" y1="728.2" x2="219.2" y2="728.2" stroke="#3fae84" stroke-width="1.3" />
<line x1="229.8" y1="697.5" x2="229.8" y2="732.3" stroke="#3fae84" stroke-width="1.3" />
<line x1="226.6" y1="697.5" x2="233" y2="697.5" stroke="#3fae84" stroke-width="1.3" />
<line x1="226.6" y1="732.3" x2="233" y2="732.3" stroke="#3fae84" stroke-width="1.3" />
<line x1="243.7" y1="692.7" x2="243.7" y2="718.2" stroke="#3fae84" stroke-width="1.3" />
<line x1="240.5" y1="692.7" x2="246.9" y2="692.7" stroke="#3fae84" stroke-width="1.3" />
<line x1="240.5" y1="718.2" x2="246.9" y2="718.2" stroke="#3fae84" stroke-width="1.3" />
<line x1="257.5" y1="682.2" x2="257.5" y2="703.2" stroke="#3fae84" stroke-width="1.3" />
<line x1="254.3" y1="682.2" x2="260.7" y2="682.2" stroke="#3fae84" stroke-width="1.3" />
<line x1="254.3" y1="703.2" x2="260.7" y2="703.2" stroke="#3fae84" stroke-width="1.3" />
<line x1="285" y1="606.3" x2="285" y2="642.3" stroke="#3fae84" stroke-width="1.3" />
<line x1="281.8" y1="606.3" x2="288.2" y2="606.3" stroke="#3fae84" stroke-width="1.3" />
<line x1="281.8" y1="642.3" x2="288.2" y2="642.3" stroke="#3fae84" stroke-width="1.3" />
<line x1="299" y1="555" x2="299" y2="585" stroke="#3fae84" stroke-width="1.3" />
<line x1="295.8" y1="555" x2="302.2" y2="555" stroke="#3fae84" stroke-width="1.3" />
<line x1="295.8" y1="585" x2="302.2" y2="585" stroke="#3fae84" stroke-width="1.3" />
<path d="M171.7,720.3 C173.08,720.27 174.95,720.17 180,720.1 C185.05,720.03 196,720.05 202,719.9 C208,719.75 211.37,719.82 216,719.2 C220.63,718.58 225.18,717.95 229.8,716.2 C234.42,714.45 239.08,712.07 243.7,708.7 C248.32,705.33 254.12,700.37 257.5,696 C260.88,691.63 261.75,687.5 264,682.5 C266.25,677.5 268.75,672.25 271,666 C273.25,659.75 275.17,652 277.5,645 C279.83,638 282.5,631.5 285,624 C287.5,616.5 290.17,606.88 292.5,600 C294.83,593.12 297.92,585.58 299,582.7" fill="none" stroke="#0f9a64" stroke-width="2.2" stroke-linecap="butt"/>
<path d="M174.5,726.8 L177.8,730.5 L174.5,734.2 L171.2,730.5 Z" fill="#0f9a64"/>
<path d="M188.3,721 L191.6,724.7 L188.3,728.4 L185,724.7 Z" fill="#0f9a64"/>
<path d="M202.2,711.8 L205.5,715.5 L202.2,719.2 L198.9,715.5 Z" fill="#0f9a64"/>
<path d="M216,713.3 L219.3,717 L216,720.7 L212.7,717 Z" fill="#0f9a64"/>
<path d="M229.8,711.5 L233.1,715.2 L229.8,718.9 L226.5,715.2 Z" fill="#0f9a64"/>
<path d="M243.7,701.6 L247,705.3 L243.7,709 L240.4,705.3 Z" fill="#0f9a64"/>
<path d="M257.5,689 L260.8,692.7 L257.5,696.4 L254.2,692.7 Z" fill="#0f9a64"/>
<path d="M271,660.5 L274.3,664.2 L271,667.9 L267.7,664.2 Z" fill="#0f9a64"/>
<path d="M285,620.6 L288.3,624.3 L285,628 L281.7,624.3 Z" fill="#0f9a64"/>
<path d="M299,559.1 L302.3,562.8 L299,566.5 L295.7,562.8 Z" fill="#0f9a64"/>
<text x="494.45" y="527.7" font-size="23.55" textLength="108.49" lengthAdjust="spacingAndGlyphs" fill="#000" style="font-weight:bold;" >RDEB_L5</text>
<text x="609.49" y="527.7" font-size="23.55" textLength="96.72" lengthAdjust="spacingAndGlyphs" fill="#000" style="" >+ TGFß2</text>
<line x1="612.7" y1="542.3" x2="626.7" y2="542.3" stroke="#444" stroke-width="1.4" />
<path d="M460,556.7 L460,740.2 L736,740.2" fill="none" stroke="#111" stroke-width="2.1" stroke-linejoin="miter"/>
<line x1="454" y1="556.7" x2="460" y2="556.7" stroke="#111" stroke-width="2" />
<text x="434.82" y="562" font-size="11" fill="#000" style="font-weight:bold;">200</text>
<line x1="454" y1="597.7" x2="460" y2="597.7" stroke="#111" stroke-width="2" />
<text x="434.82" y="603" font-size="11" fill="#000" style="font-weight:bold;">150</text>
<line x1="454" y1="638.5" x2="460" y2="638.5" stroke="#111" stroke-width="2" />
<text x="434.82" y="643.8" font-size="11" fill="#000" style="font-weight:bold;">100</text>
<line x1="454" y1="679.3" x2="460" y2="679.3" stroke="#111" stroke-width="2" />
<text x="440.93" y="684.6" font-size="11" fill="#000" style="font-weight:bold;">50</text>
<line x1="454" y1="720.2" x2="460" y2="720.2" stroke="#111" stroke-width="2" />
<text x="447.03" y="725.5" font-size="11" fill="#000" style="font-weight:bold;">0</text>
<line x1="460" y1="740.2" x2="460" y2="745.7" stroke="#111" stroke-width="2" />
<text x="454.82" y="758.3" font-size="11.5" fill="#000" style="font-weight:bold;">-8</text>
<line x1="506" y1="740.2" x2="506" y2="745.7" stroke="#111" stroke-width="2" />
<text x="500.88" y="758.3" font-size="11.5" fill="#000" style="font-weight:bold;">-7</text>
<line x1="552" y1="740.2" x2="552" y2="745.7" stroke="#111" stroke-width="2" />
<text x="546.85" y="758.3" font-size="11.5" fill="#000" style="font-weight:bold;">-6</text>
<line x1="598" y1="740.2" x2="598" y2="745.7" stroke="#111" stroke-width="2" />
<text x="592.8" y="758.3" font-size="11.5" fill="#000" style="font-weight:bold;">-5</text>
<line x1="644" y1="740.2" x2="644" y2="745.7" stroke="#111" stroke-width="2" />
<text x="638.68" y="758.3" font-size="11.5" fill="#000" style="font-weight:bold;">-4</text>
<line x1="690" y1="740.2" x2="690" y2="745.7" stroke="#111" stroke-width="2" />
<text x="684.85" y="758.3" font-size="11.5" fill="#000" style="font-weight:bold;">-3</text>
<line x1="736" y1="740.2" x2="736" y2="745.7" stroke="#111" stroke-width="2" />
<text x="730.88" y="758.3" font-size="11.5" fill="#000" style="font-weight:bold;">-2</text>
<text transform="translate(417.5,747.08) rotate(-90)" x="0" y="0" font-size="20.64" textLength="203.25" lengthAdjust="spacingAndGlyphs" fill="#000" style="">Total C7 vs baseline (%)</text>
<text x="514.27" y="793.3" font-size="19.33" textLength="147.91" lengthAdjust="spacingAndGlyphs" fill="#000" style="" >Log [compound] M</text>
<line x1="491.4" y1="703.3" x2="491.4" y2="731.8" stroke="#3b93ae" stroke-width="1.3" />
<line x1="488.2" y1="703.3" x2="494.6" y2="703.3" stroke="#3b93ae" stroke-width="1.3" />
<line x1="488.2" y1="731.8" x2="494.6" y2="731.8" stroke="#3b93ae" stroke-width="1.3" />
<line x1="574.5" y1="708.7" x2="574.5" y2="720" stroke="#3b93ae" stroke-width="1.3" />
<line x1="571.3" y1="708.7" x2="577.7" y2="708.7" stroke="#3b93ae" stroke-width="1.3" />
<line x1="571.3" y1="720" x2="577.7" y2="720" stroke="#3b93ae" stroke-width="1.3" />
<line x1="588.2" y1="717.7" x2="588.2" y2="738.2" stroke="#3b93ae" stroke-width="1.3" />
<line x1="585" y1="717.7" x2="591.4" y2="717.7" stroke="#3b93ae" stroke-width="1.3" />
<line x1="585" y1="738.2" x2="591.4" y2="738.2" stroke="#3b93ae" stroke-width="1.3" />
<line x1="602" y1="692.2" x2="602" y2="719.5" stroke="#3b93ae" stroke-width="1.3" />
<line x1="598.8" y1="692.2" x2="605.2" y2="692.2" stroke="#3b93ae" stroke-width="1.3" />
<line x1="598.8" y1="719.5" x2="605.2" y2="719.5" stroke="#3b93ae" stroke-width="1.3" />
<line x1="616.2" y1="676.4" x2="616.2" y2="705.2" stroke="#3b93ae" stroke-width="1.3" />
<line x1="613" y1="676.4" x2="619.4" y2="676.4" stroke="#3b93ae" stroke-width="1.3" />
<line x1="613" y1="705.2" x2="619.4" y2="705.2" stroke="#3b93ae" stroke-width="1.3" />
<line x1="575.4" y1="708.7" x2="575.4" y2="740.2" stroke="#3fae84" stroke-width="1.3" />
<line x1="572.2" y1="708.7" x2="578.6" y2="708.7" stroke="#3fae84" stroke-width="1.3" />
<line x1="616.7" y1="722.5" x2="616.7" y2="728.5" stroke="#3fae84" stroke-width="1.3" />
<line x1="613.5" y1="722.5" x2="619.9" y2="722.5" stroke="#3fae84" stroke-width="1.3" />
<line x1="613.5" y1="728.5" x2="619.9" y2="728.5" stroke="#3fae84" stroke-width="1.3" />
<line x1="631" y1="721.7" x2="631" y2="732.2" stroke="#3fae84" stroke-width="1.3" />
<line x1="627.8" y1="721.7" x2="634.2" y2="721.7" stroke="#3fae84" stroke-width="1.3" />
<line x1="627.8" y1="732.2" x2="634.2" y2="732.2" stroke="#3fae84" stroke-width="1.3" />
<line x1="658" y1="702.7" x2="658" y2="724.3" stroke="#3fae84" stroke-width="1.3" />
<line x1="654.8" y1="702.7" x2="661.2" y2="702.7" stroke="#3fae84" stroke-width="1.3" />
<line x1="654.8" y1="724.3" x2="661.2" y2="724.3" stroke="#3fae84" stroke-width="1.3" />
<line x1="672.2" y1="668.2" x2="672.2" y2="702.7" stroke="#3fae84" stroke-width="1.3" />
<line x1="669" y1="668.2" x2="675.4" y2="668.2" stroke="#3fae84" stroke-width="1.3" />
<line x1="669" y1="702.7" x2="675.4" y2="702.7" stroke="#3fae84" stroke-width="1.3" />
<line x1="699.7" y1="681.7" x2="699.7" y2="695.8" stroke="#3fae84" stroke-width="1.3" />
<line x1="696.5" y1="681.7" x2="702.9" y2="681.7" stroke="#3fae84" stroke-width="1.3" />
<line x1="696.5" y1="695.8" x2="702.9" y2="695.8" stroke="#3fae84" stroke-width="1.3" />
<path d="M597,722.8 C601,722.8 600.5,692 606,691.5 L616.2,691.3" fill="none" stroke="#137c99" stroke-width="2.2"/>
<path d="M491.4,722.8 L597,722.8" fill="none" stroke="#0f9a64" stroke-width="2.2"/>
<path d="M598.5,723 C602,722.8 601.5,692 607,691.5 L616.2,691.3" fill="none" stroke="#0f9a64" stroke-width="1.2" opacity="0.7"/>
<path d="M575.4,725.2 L652.5,725.2 C658,725.2 657,688.5 664,688.3 L699.7,688.3" fill="none" stroke="#0f9a64" stroke-width="2.2"/>
<circle cx="491.4" cy="717.7" r="2.4" fill="#fff" stroke="#137c99" stroke-width="1.7"/>
<circle cx="505.2" cy="733" r="2.4" fill="#fff" stroke="#137c99" stroke-width="1.7"/>
<circle cx="519.2" cy="730.4" r="2.4" fill="#fff" stroke="#137c99" stroke-width="1.7"/>
<circle cx="533" cy="723.2" r="2.4" fill="#fff" stroke="#137c99" stroke-width="1.7"/>
<circle cx="560.7" cy="722.2" r="2.4" fill="#fff" stroke="#137c99" stroke-width="1.7"/>
<circle cx="574.5" cy="714.5" r="2.4" fill="#fff" stroke="#137c99" stroke-width="1.7"/>
<circle cx="588.2" cy="728.2" r="2.4" fill="#fff" stroke="#137c99" stroke-width="1.7"/>
<circle cx="602" cy="706" r="2.4" fill="#fff" stroke="#137c99" stroke-width="1.7"/>
<circle cx="616.2" cy="691.3" r="2.4" fill="#fff" stroke="#137c99" stroke-width="1.7"/>
<path d="M575.4,720.7 L578.7,724.4 L575.4,728.1 L572.1,724.4 Z" fill="#0f9a64"/>
<path d="M589,731.3 L592.3,735 L589,738.7 L585.7,735 Z" fill="#0f9a64"/>
<path d="M602.8,722.1 L606.1,725.8 L602.8,729.5 L599.5,725.8 Z" fill="#0f9a64"/>
<path d="M616.7,722.1 L620,725.8 L616.7,729.5 L613.4,725.8 Z" fill="#0f9a64"/>
<path d="M631,723.3 L634.3,727 L631,730.7 L627.7,727 Z" fill="#0f9a64"/>
<path d="M644.5,715.8 L647.8,719.5 L644.5,723.2 L641.2,719.5 Z" fill="#0f9a64"/>
<path d="M658,709.8 L661.3,713.5 L658,717.2 L654.7,713.5 Z" fill="#0f9a64"/>
<path d="M672.2,681.6 L675.5,685.3 L672.2,689 L668.9,685.3 Z" fill="#0f9a64"/>
<path d="M685.7,687.3 L689,691 L685.7,694.7 L682.4,691 Z" fill="#0f9a64"/>
<path d="M699.7,685 L703,688.7 L699.7,692.4 L696.4,688.7 Z" fill="#0f9a64"/>
<text x="916.12" y="534" font-size="22.82" textLength="92.03" lengthAdjust="spacingAndGlyphs" fill="#000" style="font-weight:bold;" >HEK293</text>
<text x="1007.29" y="524" font-size="15.41" textLength="56.95" lengthAdjust="spacingAndGlyphs" fill="#000" style="font-weight:bold;" >R578X</text>
<path d="M858.3,568 L858.3,744 L1122,744" fill="none" stroke="#111" stroke-width="2.1" stroke-linejoin="miter"/>
<line x1="852.3" y1="568" x2="858.3" y2="568" stroke="#111" stroke-width="2" />
<text x="833.34" y="573.3" font-size="10.5" fill="#000" style="font-weight:bold;">200</text>
<line x1="852.3" y1="607" x2="858.3" y2="607" stroke="#111" stroke-width="2" />
<text x="833.34" y="612.3" font-size="10.5" fill="#000" style="font-weight:bold;">150</text>
<line x1="852.3" y1="646.4" x2="858.3" y2="646.4" stroke="#111" stroke-width="2" />
<text x="833.34" y="651.7" font-size="10.5" fill="#000" style="font-weight:bold;">100</text>
<line x1="852.3" y1="685.4" x2="858.3" y2="685.4" stroke="#111" stroke-width="2" />
<text x="839.16" y="690.7" font-size="10.5" fill="#000" style="font-weight:bold;">50</text>
<line x1="852.3" y1="724.4" x2="858.3" y2="724.4" stroke="#111" stroke-width="2" />
<text x="844.99" y="729.7" font-size="10.5" fill="#000" style="font-weight:bold;">0</text>
<line x1="858.3" y1="744" x2="858.3" y2="749.5" stroke="#111" stroke-width="2" />
<text x="853.57" y="761.8" font-size="10.5" fill="#000" style="font-weight:bold;">-8</text>
<line x1="945.7" y1="744" x2="945.7" y2="749.5" stroke="#111" stroke-width="2" />
<text x="941" y="761.8" font-size="10.5" fill="#000" style="font-weight:bold;">-6</text>
<line x1="1034" y1="744" x2="1034" y2="749.5" stroke="#111" stroke-width="2" />
<text x="1029.14" y="761.8" font-size="10.5" fill="#000" style="font-weight:bold;">-4</text>
<line x1="1122" y1="744" x2="1122" y2="749.5" stroke="#111" stroke-width="2" />
<text x="1117.33" y="761.8" font-size="10.5" fill="#000" style="font-weight:bold;">-2</text>
<text transform="translate(814.6,755.68) rotate(-90)" x="0" y="0" font-size="20.35" textLength="203.05" lengthAdjust="spacingAndGlyphs" fill="#000" style="">Total C7 vs baseline (%)</text>
<text x="916.87" y="793.3" font-size="19.33" textLength="147.91" lengthAdjust="spacingAndGlyphs" fill="#000" style="" >Log [compound] M</text>
<line x1="931.6" y1="724" x2="931.6" y2="733" stroke="#3b93ae" stroke-width="1.3" />
<line x1="928.4" y1="724" x2="934.8" y2="724" stroke="#3b93ae" stroke-width="1.3" />
<line x1="928.4" y1="733" x2="934.8" y2="733" stroke="#3b93ae" stroke-width="1.3" />
<line x1="944.7" y1="712.4" x2="944.7" y2="734.7" stroke="#3b93ae" stroke-width="1.3" />
<line x1="941.5" y1="712.4" x2="947.9" y2="712.4" stroke="#3b93ae" stroke-width="1.3" />
<line x1="941.5" y1="734.7" x2="947.9" y2="734.7" stroke="#3b93ae" stroke-width="1.3" />
<line x1="971.3" y1="711.3" x2="971.3" y2="741.3" stroke="#3b93ae" stroke-width="1.3" />
<line x1="968.1" y1="711.3" x2="974.5" y2="711.3" stroke="#3b93ae" stroke-width="1.3" />
<line x1="968.1" y1="741.3" x2="974.5" y2="741.3" stroke="#3b93ae" stroke-width="1.3" />
<line x1="984.7" y1="692.7" x2="984.7" y2="722.7" stroke="#3b93ae" stroke-width="1.3" />
<line x1="981.5" y1="692.7" x2="987.9" y2="692.7" stroke="#3b93ae" stroke-width="1.3" />
<line x1="981.5" y1="722.7" x2="987.9" y2="722.7" stroke="#3b93ae" stroke-width="1.3" />
<line x1="997.6" y1="695" x2="997.6" y2="726.4" stroke="#3b93ae" stroke-width="1.3" />
<line x1="994.4" y1="695" x2="1000.8" y2="695" stroke="#3b93ae" stroke-width="1.3" />
<line x1="994.4" y1="726.4" x2="1000.8" y2="726.4" stroke="#3b93ae" stroke-width="1.3" />
<line x1="1011" y1="638" x2="1011" y2="698.7" stroke="#3b93ae" stroke-width="1.3" />
<line x1="1007.8" y1="638" x2="1014.2" y2="638" stroke="#3b93ae" stroke-width="1.3" />
<line x1="1007.8" y1="698.7" x2="1014.2" y2="698.7" stroke="#3b93ae" stroke-width="1.3" />
<line x1="986" y1="715.3" x2="986" y2="735" stroke="#3fae84" stroke-width="1.3" />
<line x1="982.8" y1="715.3" x2="989.2" y2="715.3" stroke="#3fae84" stroke-width="1.3" />
<line x1="982.8" y1="735" x2="989.2" y2="735" stroke="#3fae84" stroke-width="1.3" />
<line x1="1012.4" y1="719.3" x2="1012.4" y2="744" stroke="#3fae84" stroke-width="1.3" />
<line x1="1009.2" y1="719.3" x2="1015.6" y2="719.3" stroke="#3fae84" stroke-width="1.3" />
<line x1="1025.6" y1="727.3" x2="1025.6" y2="740.7" stroke="#3fae84" stroke-width="1.3" />
<line x1="1022.4" y1="727.3" x2="1028.8" y2="727.3" stroke="#3fae84" stroke-width="1.3" />
<line x1="1022.4" y1="740.7" x2="1028.8" y2="740.7" stroke="#3fae84" stroke-width="1.3" />
<line x1="1065.3" y1="726.3" x2="1065.3" y2="735.7" stroke="#3fae84" stroke-width="1.3" />
<line x1="1062.1" y1="726.3" x2="1068.5" y2="726.3" stroke="#3fae84" stroke-width="1.3" />
<line x1="1062.1" y1="735.7" x2="1068.5" y2="735.7" stroke="#3fae84" stroke-width="1.3" />
<line x1="1092" y1="699" x2="1092" y2="731.7" stroke="#3fae84" stroke-width="1.3" />
<line x1="1088.8" y1="699" x2="1095.2" y2="699" stroke="#3fae84" stroke-width="1.3" />
<line x1="1088.8" y1="731.7" x2="1095.2" y2="731.7" stroke="#3fae84" stroke-width="1.3" />
<line x1="1105" y1="637.7" x2="1105" y2="668" stroke="#3fae84" stroke-width="1.3" />
<line x1="1101.8" y1="637.7" x2="1108.2" y2="637.7" stroke="#3fae84" stroke-width="1.3" />
<line x1="1101.8" y1="668" x2="1108.2" y2="668" stroke="#3fae84" stroke-width="1.3" />
<path d="M892.4,732.7 C896.67,732.57 909.52,732.18 918,731.9 C926.48,731.62 935.75,731.77 943.3,731 C950.85,730.23 958.63,728.35 963.3,727.3 C967.97,726.25 967.97,726.37 971.3,724.7 C974.63,723.03 979.07,721.42 983.3,717.3 C987.53,713.18 992.25,707.1 996.7,700 C1001.15,692.9 1007.78,678.92 1010,674.7" fill="none" stroke="#137c99" stroke-width="2.2" stroke-linecap="butt"/>
<path d="M986,728.3 C993.33,728.3 1016.67,728.35 1030,728.3 C1043.33,728.25 1058.5,728.22 1066,728 C1073.5,727.78 1072.33,727.53 1075,727 C1077.67,726.47 1079.83,726.05 1082,724.8 C1084.17,723.55 1086.33,721.47 1088,719.5 C1089.67,717.53 1090.5,716.75 1092,713 C1093.5,709.25 1095.5,703.17 1097,697 C1098.5,690.83 1099.67,683.17 1101,676 C1102.33,668.83 1104.33,657.67 1105,654" fill="none" stroke="#3fae84" stroke-width="1.4" stroke-linecap="butt"/>
<circle cx="891.7" cy="736" r="2.4" fill="#fff" stroke="#137c99" stroke-width="1.7"/>
<circle cx="905" cy="743.7" r="2.4" fill="#fff" stroke="#137c99" stroke-width="1.7"/>
<circle cx="918.3" cy="738.7" r="2.4" fill="#fff" stroke="#137c99" stroke-width="1.7"/>
<circle cx="931.6" cy="729" r="2.4" fill="#fff" stroke="#137c99" stroke-width="1.7"/>
<circle cx="944.7" cy="723.7" r="2.4" fill="#fff" stroke="#137c99" stroke-width="1.7"/>
<circle cx="958.3" cy="727" r="2.4" fill="#fff" stroke="#137c99" stroke-width="1.7"/>
<circle cx="971.3" cy="726.3" r="2.4" fill="#fff" stroke="#137c99" stroke-width="1.7"/>
<circle cx="984.7" cy="707.7" r="2.4" fill="#fff" stroke="#137c99" stroke-width="1.7"/>
<circle cx="997.6" cy="710.7" r="2.4" fill="#fff" stroke="#137c99" stroke-width="1.7"/>
<circle cx="1011" cy="668.4" r="2.4" fill="#fff" stroke="#137c99" stroke-width="1.7"/>
<path d="M986,721.2 L989.8,725.3 L986,729.4 L982.2,725.3 Z" fill="#0f9a64"/>
<path d="M999.3,716.2 L1003.1,720.3 L999.3,724.4 L995.5,720.3 Z" fill="#0f9a64"/>
<path d="M1012.4,728.3 L1016.2,732.4 L1012.4,736.5 L1008.6,732.4 Z" fill="#0f9a64"/>
<path d="M1025.6,729.9 L1029.4,734 L1025.6,738.1 L1021.8,734 Z" fill="#0f9a64"/>
<path d="M1039,725.2 L1042.8,729.3 L1039,733.4 L1035.2,729.3 Z" fill="#0f9a64"/>
<path d="M1065.3,726.9 L1069.1,731 L1065.3,735.1 L1061.5,731 Z" fill="#0f9a64"/>
<path d="M1078.7,714.2 L1082.5,718.3 L1078.7,722.4 L1074.9,718.3 Z" fill="#0f9a64"/>
<path d="M1092,711.2 L1095.8,715.3 L1092,719.4 L1088.2,715.3 Z" fill="#0f9a64"/>
<path d="M1105,648.9 L1108.8,653 L1105,657.1 L1101.2,653 Z" fill="#0f9a64"/>
<line x1="425.8" y1="847.25" x2="454.2" y2="847.25" stroke="#137c99" stroke-width="2.7" />
<circle cx="440.8" cy="847.25" r="3.8" fill="#fff" stroke="#137c99" stroke-width="2.3"/>
<text x="468.9" y="855" font-size="22.97" textLength="53.7" lengthAdjust="spacingAndGlyphs" fill="#000" style="" >G418</text>
<line x1="573.3" y1="848" x2="601.3" y2="848" stroke="#0f9a64" stroke-width="2.6" />
<path d="M587.5,842.4 L591.8,848 L587.5,853.6 L583.2,848 Z" fill="#0f9a64"/>
<text x="616.45" y="855.4" font-size="22.97" textLength="106.58" lengthAdjust="spacingAndGlyphs" fill="#000" style="" >Gentamicin</text>
<text x="8.66" y="1021.6" font-size="40.5" textLength="18.63" lengthAdjust="spacingAndGlyphs" fill="#000" style="font-weight:bold;" >c</text>
<text x="122.71" y="1046" font-size="28.05" textLength="127.13" lengthAdjust="spacingAndGlyphs" fill="#000" style="" >RDEB_L1</text>
<line x1="100" y1="1065.8" x2="267" y2="1065.8" stroke="#666" stroke-width="3.6" />
<text x="-0.64" y="1146.2" font-size="16.86" textLength="21.47" lengthAdjust="spacingAndGlyphs" fill="#000" style="" >kD</text>
<text transform="translate(68,1154.55) rotate(-90)" x="0" y="0" font-size="24.35" textLength="41.03" lengthAdjust="spacingAndGlyphs" fill="#000" style="">NHK</text>
<text transform="translate(130.5,1154.56) rotate(-90)" x="0" y="0" font-size="26.16" textLength="69.52" lengthAdjust="spacingAndGlyphs" fill="#000" style="">Medium</text>
<text transform="translate(197.5,1153.99) rotate(-90)" x="0" y="0" font-size="26.16" textLength="59.57" lengthAdjust="spacingAndGlyphs" fill="#000" style="">Genta.</text>
<text transform="translate(256.25,1153.97) rotate(-90)" x="0" y="0" font-size="26.53" textLength="47.26" lengthAdjust="spacingAndGlyphs" fill="#000" style="">G418</text>
<svg x="30.3" y="1159.3" width="236.7" height="116.2" overflow="hidden"><g transform="translate(-30.3,-1159.3)">
<rect x="30.3" y="1159.3" width="236.7" height="116.2" fill="#e3e3e3" />
<rect x="28" y="1159" width="9" height="117" rx="0" fill="#ececec" filter="url(#b2)" />
<rect x="86" y="1159" width="12" height="117" rx="0" fill="#ebebeb" filter="url(#b3)" />
<rect x="149" y="1159" width="8" height="117" rx="0" fill="#e9e9e9" filter="url(#b3)" />
<rect x="207" y="1159" width="8" height="117" rx="0" fill="#eaeaea" filter="url(#b3)" />
<rect x="141" y="1155" width="60" height="45" rx="0" fill="#d9d9d9" filter="url(#b5)" />
<rect x="216" y="1258" width="42" height="18" rx="0" fill="#e2e2e2" filter="url(#b3)" />
<rect x="38" y="1172" width="46" height="103" rx="0" fill="#d0d0d0" filter="url(#b3)" />
<rect x="38" y="1203" width="47" height="16" rx="0" fill="#b4b4b4" filter="url(#b2)" />
<rect x="38" y="1216" width="46" height="24" rx="0" fill="#c6c6c6" filter="url(#b3)" />
<path d="M42,1191.9 Q61.75,1189.5 81.5,1191.9 Q86.7,1198.3 81.5,1204.7 Q61.75,1202.3 42,1204.7 Q36.8,1198.3 42,1191.9 Z" fill="#0c0c0c" filter="url(#b1)" />
<path d="M103,1249.5 Q123.5,1252.5 144,1249.5 Q149.2,1254 144,1258.5 Q123.5,1261.5 103,1258.5 Q97.8,1254 103,1249.5 Z" fill="#bebebe" filter="url(#b2)" />
<path d="M164,1250.5 Q181.5,1253.5 199,1250.5 Q204.2,1255 199,1259.5 Q181.5,1262.5 164,1259.5 Q158.8,1255 164,1250.5 Z" fill="#b4b4b4" filter="url(#b2)" />
<rect x="219" y="1194" width="39" height="9" rx="0" fill="#d3d3d3" filter="url(#b3)" />
<path d="M221,1248.5 Q237.75,1250.5 254.5,1248.5 Q259.7,1254 254.5,1259.5 Q237.75,1261.5 221,1259.5 Q215.8,1254 221,1248.5 Z" fill="#949494" filter="url(#b2)" />
<path d="M223.5,1253.6 Q239.5,1254.8 255.5,1253.6 Q258.1,1255.6 255.5,1257.6 Q239.5,1258.8 223.5,1257.6 Q220.9,1255.6 223.5,1253.6 Z" fill="#0e0e0e" filter="url(#b1)" />
</g></svg>
<line x1="30.3" y1="1159.6" x2="267" y2="1159.6" stroke="#a8a8a8" stroke-width="0.9" />
<text x="0.22" y="1193.9" font-size="13.7" textLength="23.63" lengthAdjust="spacingAndGlyphs" fill="#000" style="" >400</text>
<text x="-0.22" y="1238.4" font-size="13.7" textLength="24.15" lengthAdjust="spacingAndGlyphs" fill="#000" style="" >268</text>
<text x="-0.22" y="1254.8" font-size="13.7" textLength="24.15" lengthAdjust="spacingAndGlyphs" fill="#000" style="" >238</text>
<svg x="31.3" y="1285.8" width="235.6" height="52.1" overflow="hidden"><g transform="translate(-31.3,-1285.8)">
<rect x="31.3" y="1285.8" width="235.6" height="52.1" fill="#ededed" />
<path d="M40.5,1312 Q49.75,1315 59,1312 Q64.2,1316.5 59,1321 Q49.75,1324 40.5,1321 Q35.3,1316.5 40.5,1312 Z" fill="#808080" filter="url(#b2)" />
<path d="M65,1312 Q76.5,1315 88,1312 Q93.2,1317 88,1322 Q76.5,1325 65,1322 Q59.8,1317 65,1312 Z" fill="#787878" filter="url(#b2)" />
<path d="M98,1313.5 Q124.5,1317 151,1310.5 Q156.2,1315.5 151,1320.5 Q124.5,1327 98,1323.5 Q92.8,1318.5 98,1313.5 Z" fill="#6a6a6a" filter="url(#b2)" />
<path d="M159,1314 Q183,1319 207,1314 Q212.2,1319 207,1324 Q183,1329 159,1324 Q153.8,1319 159,1314 Z" fill="#727272" filter="url(#b2)" />
<path d="M215,1313.5 Q239.5,1315.5 264,1309.5 Q269.2,1314.5 264,1319.5 Q239.5,1325.5 215,1323.5 Q209.8,1318.5 215,1313.5 Z" fill="#686868" filter="url(#b2)" />
</g></svg>
<path d="M272.3,1195.6 L287,1185.9 L287,1205.7 Z" fill="#000"/>
<path d="M272.3,1255.9 L287,1246.3 L287,1266.2 Z" fill="#000"/>
<text x="293.7" y="1193.8" font-size="24.71" textLength="25.68" lengthAdjust="spacingAndGlyphs" fill="#000" style="" >C7</text>
<text x="318.45" y="1186.6" font-size="13.37" textLength="60.38" lengthAdjust="spacingAndGlyphs" fill="#000" style="" >Full length</text>
<text x="293.74" y="1212.5" font-size="18.6" textLength="61.29" lengthAdjust="spacingAndGlyphs" fill="#000" style="" >(295 kD)</text>
<text x="294.65" y="1254.5" font-size="23.98" textLength="24.37" lengthAdjust="spacingAndGlyphs" fill="#000" style="" >C7</text>
<text x="318.93" y="1247.5" font-size="14.39" textLength="48.19" lengthAdjust="spacingAndGlyphs" fill="#000" style="" >R1978X</text>
<text x="294.66" y="1273.2" font-size="18.31" textLength="60.36" lengthAdjust="spacingAndGlyphs" fill="#000" style="" >(202 kD)</text>
<text x="271.32" y="1316.3" font-size="19.48" textLength="62.29" lengthAdjust="spacingAndGlyphs" fill="#000" style="" >Tubulin</text>
<text x="531.44" y="1046.25" font-size="29.07" textLength="128.52" lengthAdjust="spacingAndGlyphs" fill="#000" style="" >RDEB_L5</text>
<line x1="513" y1="1064.6" x2="676.75" y2="1066.2" stroke="#666" stroke-width="3.4" />
<text x="417.62" y="1137" font-size="15.63" textLength="21.2" lengthAdjust="spacingAndGlyphs" fill="#000" style="" >kD</text>
<text transform="translate(481.25,1154.55) rotate(-90)" x="0" y="0" font-size="25.44" textLength="41.03" lengthAdjust="spacingAndGlyphs" fill="#000" style="">NHK</text>
<text transform="translate(543,1154.56) rotate(-90)" x="0" y="0" font-size="26.16" textLength="69.52" lengthAdjust="spacingAndGlyphs" fill="#000" style="">Medium</text>
<text transform="translate(611.25,1153.95) rotate(-90)" x="0" y="0" font-size="26.53" textLength="56.94" lengthAdjust="spacingAndGlyphs" fill="#000" style="">Genta.</text>
<text transform="translate(674.25,1153.97) rotate(-90)" x="0" y="0" font-size="26.16" textLength="47.26" lengthAdjust="spacingAndGlyphs" fill="#000" style="">G418</text>
<svg x="446.25" y="1162" width="232.5" height="121" overflow="hidden"><g transform="translate(-446.25,-1162)">
<rect x="446.25" y="1162" width="232.5" height="121" fill="#dedede" />
<rect x="500" y="1165" width="90" height="118" rx="0" fill="#e3e3e3" filter="url(#b5)" />
<rect x="620" y="1162" width="60" height="48" rx="0" fill="#d6d6d6" filter="url(#b5)" />
<rect x="446" y="1180" width="54" height="90" rx="0" fill="#cecece" filter="url(#b5)" />
<rect x="446" y="1228" width="52" height="30" rx="0" fill="#c8c8c8" filter="url(#b3)" />
<rect x="446" y="1190" width="54" height="15" rx="0" fill="#c6c6c6" filter="url(#b3)" />
<path d="M455.5,1201.95 Q473.75,1200.75 492,1201.95 Q497.2,1215.2 492,1228.45 Q473.75,1229.65 455.5,1228.45 Q450.3,1215.2 455.5,1201.95 Z" fill="#070707" filter="url(#b1)" />
<path d="M628,1208 L672,1198 L672,1207 L628,1218 Z" fill="#c2c2c2" filter="url(#b3)"/>
<rect x="630" y="1220" width="40" height="18" rx="0" fill="#cacaca" filter="url(#b3)" />
</g></svg>
<text x="415.21" y="1195" font-size="13.7" textLength="24.1" lengthAdjust="spacingAndGlyphs" fill="#000" style="" >400</text>
<text x="414.76" y="1245.75" font-size="13.7" textLength="24.63" lengthAdjust="spacingAndGlyphs" fill="#000" style="" >268</text>
<text x="414.76" y="1261.75" font-size="13.7" textLength="24.63" lengthAdjust="spacingAndGlyphs" fill="#000" style="" >238</text>
<svg x="446.25" y="1305.5" width="234.25" height="32" overflow="hidden"><g transform="translate(-446.25,-1305.5)">
<rect x="446.25" y="1305.5" width="234.25" height="32" fill="#e2e2e2" />
<path d="M454,1319 Q472.5,1318.25 491,1317.5 Q494.9,1320.5 491,1323.5 Q472.5,1324.25 454,1325 Q450.1,1322 454,1319 Z" fill="#3e3e3e" filter="url(#b1)" />
<path d="M504,1318.5 L530,1317.8 L558,1316.5 L566,1314.8 L590,1314.5 L618,1313.8 L626,1315.8 L650,1316 L668,1314 L682,1310.5 L682,1318 L668,1320.5 L650,1321.5 L626,1321.5 L618,1321.5 L590,1322.5 L566,1323.5 L540,1325.8 L515,1327 L504,1326 Z" fill="#2c2c2c" stroke="#2c2c2c" stroke-width="1" stroke-linejoin="round" filter="url(#b1)"/>
</g></svg>
<path d="M686.5,1202.4 L701.1,1193 L701.1,1212.7 Z" fill="#000"/>
<path d="M686.5,1229.7 L701.1,1220 L701.1,1239.6 Z" fill="#000"/>
<text x="708.65" y="1186.4" font-size="22.97" textLength="24.37" lengthAdjust="spacingAndGlyphs" fill="#000" style="" >C7</text>
<text x="733.23" y="1179.8" font-size="15.7" textLength="61.62" lengthAdjust="spacingAndGlyphs" fill="#000" style="" >Full length</text>
<text x="708.84" y="1206" font-size="18.31" textLength="61.19" lengthAdjust="spacingAndGlyphs" fill="#000" style="" >(295 kD)</text>
<text x="708.65" y="1240.6" font-size="23.4" textLength="24.37" lengthAdjust="spacingAndGlyphs" fill="#000" style="" >C7</text>
<text x="733.71" y="1233.8" font-size="14.97" textLength="47.74" lengthAdjust="spacingAndGlyphs" fill="#000" style="" >Q2417X</text>
<text x="708.86" y="1260.5" font-size="18.17" textLength="59.84" lengthAdjust="spacingAndGlyphs" fill="#000" style="" >(243 kD)</text>
<text x="689.11" y="1325.8" font-size="18.6" textLength="62.9" lengthAdjust="spacingAndGlyphs" fill="#000" style="" >Tubulin</text>
<rect x="884.4" y="1077" width="43.35" height="303.7" fill="#f5f5f5" />
<rect x="941.8" y="1077" width="85" height="303.7" fill="#f0f0f0" />
<rect x="1043.7" y="1050" width="45.05" height="27" fill="#f7f7f7" />
<rect x="1043.7" y="1077" width="45.05" height="303.7" fill="#f1f1f1" />
<rect x="886.6" y="1383" width="42.2" height="95" fill="#fbfbfb" />
<rect x="944" y="1383" width="84.5" height="95" fill="#fafafa" />
<rect x="1043.25" y="1383" width="43.75" height="95" fill="#fafafa" />
<text x="924.44" y="960.3" font-size="27.62" textLength="105.18" lengthAdjust="spacingAndGlyphs" fill="#000" style="" >HEK293</text>
<text x="1030.26" y="951.7" font-size="17.44" textLength="58.98" lengthAdjust="spacingAndGlyphs" fill="#000" style="" >R578X</text>
<line x1="941.8" y1="980.5" x2="1082.25" y2="980.5" stroke="#666" stroke-width="3.4" />
<text x="853.59" y="1059.4" font-size="16.57" textLength="20.81" lengthAdjust="spacingAndGlyphs" fill="#000" style="" >kD</text>
<text transform="translate(911.5,1066.99) rotate(-90)" x="0" y="0" font-size="23.62" textLength="41.91" lengthAdjust="spacingAndGlyphs" fill="#000" style="">NHK</text>
<text transform="translate(970,1066.39) rotate(-90)" x="0" y="0" font-size="26.74" textLength="48.41" lengthAdjust="spacingAndGlyphs" fill="#000" style="">G418</text>
<text transform="translate(1014.4,1066.38) rotate(-90)" x="0" y="0" font-size="26.16" textLength="59.09" lengthAdjust="spacingAndGlyphs" fill="#000" style="">Genta.</text>
<text transform="translate(1075.75,1066.97) rotate(-90)" x="0" y="0" font-size="26.09" textLength="69.94" lengthAdjust="spacingAndGlyphs" fill="#000" style="">Medium</text>
<svg x="884.4" y="1077" width="204.35" height="303.7" overflow="hidden"><g transform="translate(-884.4,-1077)">
<rect x="889" y="1148" width="32" height="32" rx="0" fill="#e9e9e9" filter="url(#b3)" />
<path d="M892,1106 Q905.25,1107 918.5,1106 Q923.7,1113.5 918.5,1121 Q905.25,1116 892,1121 Q886.8,1113.5 892,1106 Z" fill="#080808" filter="url(#b1)" />
<path d="M892.5,1120 Q905,1125 917.5,1120 Q922.7,1133 917.5,1146 Q905,1148 892.5,1146 Q887.3,1133 892.5,1120 Z" fill="#080808" filter="url(#b1)" />
<ellipse cx="905" cy="1120.5" rx="13" ry="2.2" fill="#555" filter="url(#b1)"/>
<path d="M891,1247.5 Q906,1247.5 921,1247.5 Q924.9,1250.5 921,1253.5 Q906,1253.5 891,1253.5 Q887.1,1250.5 891,1247.5 Z" fill="#d4d4d4" filter="url(#b2)" />
<path d="M947.5,1116 Q962.5,1116 977.5,1116 Q980.75,1118.5 977.5,1121 Q962.5,1121 947.5,1121 Q944.25,1118.5 947.5,1116 Z" fill="#dadada" filter="url(#b2)" />
<path d="M990.5,1116 Q1005,1116 1019.5,1116 Q1022.75,1118.5 1019.5,1121 Q1005,1121 990.5,1121 Q987.25,1118.5 990.5,1116 Z" fill="#dcdcdc" filter="url(#b2)" />
<path d="M948.5,1142 Q962.75,1143 977,1142 Q982.2,1153 977,1164 Q962.75,1171 948.5,1164 Q943.3,1153 948.5,1142 Z" fill="#060606" filter="url(#b1)" />
<path d="M991.8,1143.5 Q1005.15,1144.5 1018.5,1143.5 Q1023.7,1152.5 1018.5,1161.5 Q1005.15,1166.5 991.8,1161.5 Q986.6,1152.5 991.8,1143.5 Z" fill="#070707" filter="url(#b1)" />
<rect x="944" y="1166" width="38" height="14" rx="0" fill="#e6e6e6" filter="url(#b3)" />
<path d="M948,1201.7 Q963.5,1201.7 979,1201.7 Q982.9,1204.7 979,1207.7 Q963.5,1207.7 948,1207.7 Q944.1,1204.7 948,1201.7 Z" fill="#bcbcbc" filter="url(#b2)" />
<path d="M947.5,1225.5 Q963.5,1225.5 979.5,1225.5 Q982.75,1228 979.5,1230.5 Q963.5,1230.5 947.5,1230.5 Q944.25,1228 947.5,1225.5 Z" fill="#d8d8d8" filter="url(#b2)" />
<path d="M947.75,1242.55 Q963.5,1242.55 979.25,1242.55 Q982.83,1245.3 979.25,1248.05 Q963.5,1248.05 947.75,1248.05 Q944.17,1245.3 947.75,1242.55 Z" fill="#d0d0d0" filter="url(#b2)" />
<path d="M948.25,1321.75 Q963.5,1321.75 978.75,1321.75 Q982.98,1325 978.75,1328.25 Q963.5,1329.85 948.25,1328.25 Q944.02,1325 948.25,1321.75 Z" fill="#3a3a3a" filter="url(#b1)" />
<rect x="947" y="1328" width="33" height="20" rx="0" fill="#c4c4c4" filter="url(#b3)" />
<path d="M991,1201.7 Q1006,1201.7 1021,1201.7 Q1024.9,1204.7 1021,1207.7 Q1006,1207.7 991,1207.7 Q987.1,1204.7 991,1201.7 Z" fill="#bcbcbc" filter="url(#b2)" />
<path d="M990.5,1225.5 Q1006,1225.5 1021.5,1225.5 Q1024.75,1228 1021.5,1230.5 Q1006,1230.5 990.5,1230.5 Q987.25,1228 990.5,1225.5 Z" fill="#d8d8d8" filter="url(#b2)" />
<path d="M990.75,1242.55 Q1006,1242.55 1021.25,1242.55 Q1024.83,1245.3 1021.25,1248.05 Q1006,1248.05 990.75,1248.05 Q987.17,1245.3 990.75,1242.55 Z" fill="#d0d0d0" filter="url(#b2)" />
<path d="M991.25,1321.75 Q1006,1321.75 1020.75,1321.75 Q1024.97,1325 1020.75,1328.25 Q1006,1329.85 991.25,1328.25 Q987.02,1325 991.25,1321.75 Z" fill="#3a3a3a" filter="url(#b1)" />
<rect x="990" y="1328" width="32" height="20" rx="0" fill="#c4c4c4" filter="url(#b3)" />
<path d="M1051,1201.7 Q1065,1201.7 1079,1201.7 Q1082.9,1204.7 1079,1207.7 Q1065,1207.7 1051,1207.7 Q1047.1,1204.7 1051,1201.7 Z" fill="#bcbcbc" filter="url(#b2)" />
<path d="M1050.5,1225.5 Q1065,1225.5 1079.5,1225.5 Q1082.75,1228 1079.5,1230.5 Q1065,1230.5 1050.5,1230.5 Q1047.25,1228 1050.5,1225.5 Z" fill="#d8d8d8" filter="url(#b2)" />
<path d="M1050.75,1242.55 Q1065,1242.55 1079.25,1242.55 Q1082.83,1245.3 1079.25,1248.05 Q1065,1248.05 1050.75,1248.05 Q1047.17,1245.3 1050.75,1242.55 Z" fill="#d0d0d0" filter="url(#b2)" />
<path d="M1051.25,1321.75 Q1065,1321.75 1078.75,1321.75 Q1082.97,1325 1078.75,1328.25 Q1065,1329.85 1051.25,1328.25 Q1047.03,1325 1051.25,1321.75 Z" fill="#3a3a3a" filter="url(#b1)" />
<rect x="1050" y="1328" width="30" height="20" rx="0" fill="#c4c4c4" filter="url(#b3)" />
<path d="M949,1354.5 Q964,1356.9 979,1354.5 Q984.2,1359 979,1363.5 Q964,1367.9 949,1363.5 Q943.8,1359 949,1354.5 Z" fill="#3a3a3a" filter="url(#b1)" />
<path d="M992,1354.5 Q1006.5,1356.9 1021,1354.5 Q1026.2,1359 1021,1363.5 Q1006.5,1367.9 992,1363.5 Q986.8,1359 992,1354.5 Z" fill="#474747" filter="url(#b1)" />
<path d="M1051.75,1144.75 Q1064.75,1144.75 1077.75,1144.75 Q1081.33,1147.5 1077.75,1150.25 Q1064.75,1150.25 1051.75,1150.25 Q1048.17,1147.5 1051.75,1144.75 Z" fill="#2e2e2e" filter="url(#b1)" />
<rect x="1050" y="1150" width="30" height="12" rx="0" fill="#cbcbcb" filter="url(#b2)" />
<path d="M1052,1328 L1080,1328 L1068,1346 L1064,1346 Z" fill="#c2c2c2" filter="url(#b3)"/>
</g></svg>
<svg x="884" y="1383" width="205" height="95" overflow="hidden"><g transform="translate(-884,-1383)">
<path d="M890.25,1427.15 Q908,1427.15 925.75,1427.15 Q928.67,1429.4 925.75,1431.65 Q908,1431.65 890.25,1431.65 Q887.33,1429.4 890.25,1427.15 Z" fill="#a6a6a6" filter="url(#b1)" />
<path d="M949,1424.8 Q964.5,1426.8 980,1424.8 Q985.2,1429.8 980,1434.8 Q964.5,1436.8 949,1434.8 Q943.8,1429.8 949,1424.8 Z" fill="#030303" filter="url(#b1)" />
<path d="M994,1425.3 Q1008.5,1427.3 1023,1425.3 Q1028.2,1429.8 1023,1434.3 Q1008.5,1436.3 994,1434.3 Q988.8,1429.8 994,1425.3 Z" fill="#080808" filter="url(#b1)" />
<path d="M1049,1424.3 Q1065.5,1426.3 1082,1424.3 Q1087.2,1429.8 1082,1435.3 Q1065.5,1437.3 1049,1435.3 Q1043.8,1429.8 1049,1424.3 Z" fill="#141414" filter="url(#b1)" />
<rect x="1056" y="1427" width="22" height="7" rx="0" fill="#4a4a4a" filter="url(#b1)" />
</g></svg>
<text x="850.11" y="1093" font-size="13.7" textLength="24.04" lengthAdjust="spacingAndGlyphs" fill="#000" style="" >400</text>
<text x="849.66" y="1147.75" font-size="13.7" textLength="24.58" lengthAdjust="spacingAndGlyphs" fill="#000" style="" >268</text>
<text x="849.66" y="1161.4" font-size="13.7" textLength="24.58" lengthAdjust="spacingAndGlyphs" fill="#000" style="" >238</text>
<text x="849.69" y="1231.6" font-size="13.7" textLength="24.62" lengthAdjust="spacingAndGlyphs" fill="#000" style="" >171</text>
<text x="857.68" y="1289.7" font-size="13.7" textLength="16" lengthAdjust="spacingAndGlyphs" fill="#000" style="" >71</text>
<text x="857.81" y="1374" font-size="13.7" textLength="16.42" lengthAdjust="spacingAndGlyphs" fill="#000" style="" >55</text>
<path d="M1095,1115.5 L1109.5,1105.8 L1109.5,1125.2 Z" fill="#000"/>
<path d="M1095,1353.2 L1109.5,1343.5 L1109.5,1363 Z" fill="#000"/>
<text x="1114.52" y="1112.5" font-size="23.26" textLength="25.02" lengthAdjust="spacingAndGlyphs" fill="#000" style="" >C7</text>
<text x="1138.92" y="1105.5" font-size="15.55" textLength="62.45" lengthAdjust="spacingAndGlyphs" fill="#000" style="" >Full length</text>
<text x="1114.55" y="1132" font-size="18.17" textLength="60.98" lengthAdjust="spacingAndGlyphs" fill="#000" style="" >(295 kD)</text>
<text x="1114.06" y="1350.5" font-size="23.98" textLength="23.94" lengthAdjust="spacingAndGlyphs" fill="#000" style="" >C7</text>
<text x="1138.47" y="1343" font-size="15.26" textLength="30.8" lengthAdjust="spacingAndGlyphs" fill="#000" style="" >578X</text>
<text x="1114.07" y="1369.8" font-size="19.33" textLength="50.92" lengthAdjust="spacingAndGlyphs" fill="#000" style="" >(62 kD)</text>
<text x="1101.69" y="1431.8" font-size="19.33" textLength="79.65" lengthAdjust="spacingAndGlyphs" fill="#000" style="" >Lamin B1</text>
</svg></body></html>
